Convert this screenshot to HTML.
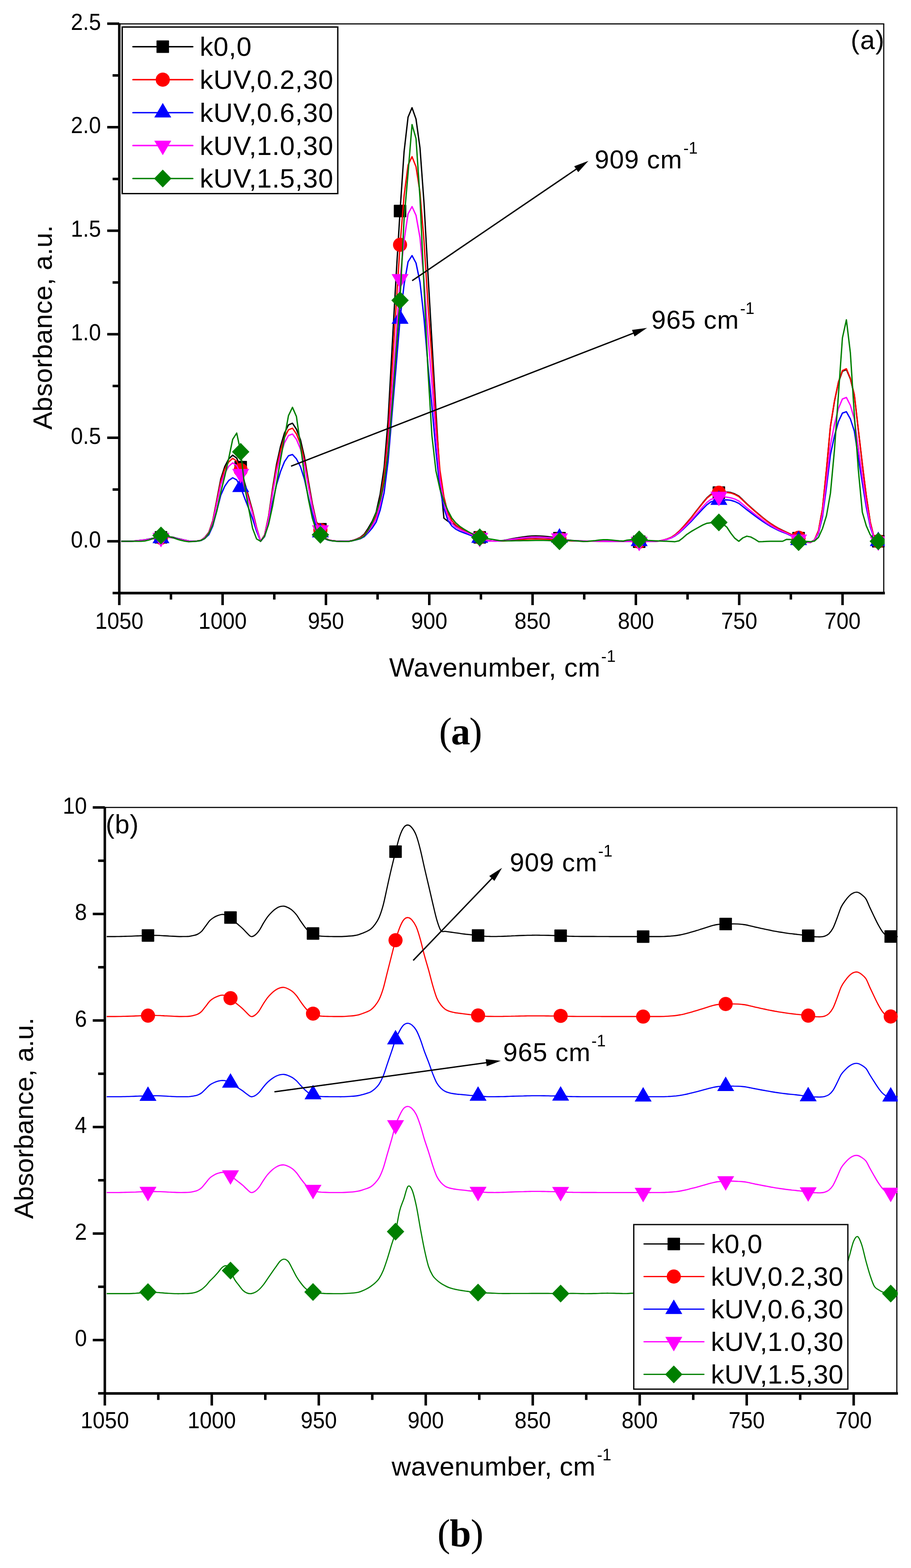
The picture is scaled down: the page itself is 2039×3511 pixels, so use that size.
<!DOCTYPE html>
<html><head><meta charset="utf-8"><title>FTIR spectra</title><style>html,body{margin:0;padding:0;background:#fff;}svg{display:block;}</style></head><body>
<svg width="2039" height="3511" viewBox="0 0 2039 3511"><rect width="2039" height="3511" fill="#fff"/><defs><clipPath id="ca"><rect x="267.0" y="53.5" width="1713.0" height="1274.5"/></clipPath><clipPath id="cb"><rect x="234.6" y="1808.0" width="1774.7" height="1312.1999999999998"/></clipPath></defs>
<line x1="267.0" y1="53.5" x2="1979.2" y2="53.5" stroke="#000" stroke-width="2.6"/><line x1="1978.0" y1="53.5" x2="1978.0" y2="1328.0" stroke="#000" stroke-width="2.5"/>
<g clip-path="url(#ca)">
<polyline points="271.1,1212.0 280.0,1212.0 288.9,1212.0 297.9,1211.6 306.8,1210.8 315.7,1209.8 324.6,1208.7 333.5,1207.0 342.4,1205.3 351.4,1204.2 360.3,1203.2 369.2,1202.0 378.1,1201.9 387.0,1203.0 396.0,1205.4 404.9,1207.5 413.8,1209.4 422.7,1211.3 431.6,1212.0 440.6,1211.5 449.5,1210.1 458.4,1203.3 467.3,1192.3 476.2,1166.2 485.2,1119.6 494.1,1072.6 503.0,1045.0 511.9,1027.7 520.8,1019.2 529.8,1025.8 538.7,1046.0 547.6,1081.0 556.5,1112.2 565.4,1144.0 574.3,1181.6 583.3,1212.0 592.2,1197.8 601.1,1156.6 610.0,1094.3 618.9,1039.9 627.9,999.4 636.8,969.3 645.7,951.4 654.6,947.7 663.5,961.1 672.5,984.7 681.4,1023.2 690.3,1077.8 699.2,1128.1 708.1,1168.2 717.1,1185.1 726.0,1203.4 734.9,1208.6 743.8,1210.6 752.7,1211.6 761.7,1212.0 770.6,1212.0 779.5,1212.0 788.4,1210.3 797.3,1207.3 806.3,1203.4 815.2,1196.2 824.1,1182.8 833.0,1167.5 841.9,1146.8 850.8,1106.7 859.8,1046.6 868.7,939.2 877.6,778.4 886.5,619.9 895.4,472.6 904.4,339.9 913.3,262.4 922.2,241.2 931.1,266.5 940.0,331.0 949.0,454.1 957.9,613.6 966.8,766.3 975.7,920.3 984.6,1067.1 993.6,1160.4 1002.5,1167.1 1011.4,1172.0 1020.3,1176.8 1029.2,1181.9 1038.2,1187.1 1047.1,1191.7 1056.0,1195.4 1064.9,1199.2 1073.8,1203.2 1082.8,1207.6 1091.7,1210.3 1100.6,1211.2 1109.5,1211.5 1118.4,1211.1 1127.3,1210.1 1136.3,1208.5 1145.2,1206.5 1154.1,1205.0 1163.0,1203.5 1171.9,1202.3 1180.9,1201.1 1189.8,1200.2 1198.7,1200.0 1207.6,1200.2 1216.5,1200.7 1225.5,1201.5 1234.4,1202.7 1243.3,1203.8 1252.2,1205.0 1261.1,1207.2 1270.1,1209.1 1279.0,1210.1 1287.9,1210.8 1296.8,1211.1 1305.7,1211.3 1314.7,1211.4 1323.6,1211.5 1332.5,1211.6 1341.4,1211.7 1350.3,1211.8 1359.2,1211.9 1368.2,1212.0 1377.1,1212.0 1386.0,1212.0 1394.9,1212.0 1403.8,1212.0 1412.8,1212.0 1421.7,1212.0 1430.6,1212.9 1439.5,1212.6 1448.4,1212.0 1457.4,1212.0 1466.3,1212.0 1475.2,1211.5 1484.1,1209.5 1493.0,1207.0 1502.0,1203.4 1510.9,1197.6 1519.8,1189.7 1528.7,1180.2 1537.6,1170.0 1546.6,1159.6 1555.5,1148.0 1564.4,1136.7 1573.3,1125.3 1582.2,1114.6 1591.2,1107.0 1600.1,1103.7 1609.0,1103.1 1617.9,1102.3 1626.8,1101.7 1635.7,1102.8 1644.7,1106.0 1653.6,1110.9 1662.5,1119.2 1671.4,1127.9 1680.3,1135.8 1689.3,1143.8 1698.2,1151.5 1707.1,1158.9 1716.0,1165.9 1724.9,1172.2 1733.9,1178.0 1742.8,1183.2 1751.7,1187.7 1760.6,1191.8 1769.5,1196.1 1778.5,1200.3 1787.4,1205.0 1796.3,1212.2 1805.2,1214.4 1814.1,1214.8 1823.1,1208.7 1832.0,1188.2 1840.9,1139.4 1849.8,1051.3 1858.7,954.9 1867.7,898.9 1876.6,856.5 1885.5,831.3 1894.4,827.3 1903.3,848.4 1912.2,885.0 1921.2,963.3 1930.1,1039.3 1939.0,1111.1 1947.9,1169.5 1956.8,1205.0 1965.8,1212.0 1974.7,1212.0 1983.6,1212.0" fill="none" stroke="#000000" stroke-width="3.0" stroke-linejoin="round"/>
<rect x="346.3" y="1189.2" width="28.0" height="28.0" rx="1.2" fill="#000000"/>
<rect x="524.7" y="1032.0" width="28.0" height="28.0" rx="1.2" fill="#000000"/>
<rect x="703.1" y="1171.1" width="28.0" height="28.0" rx="1.2" fill="#000000"/>
<rect x="881.4" y="458.6" width="28.0" height="28.0" rx="1.2" fill="#000000"/>
<rect x="1059.8" y="1189.2" width="28.0" height="28.0" rx="1.2" fill="#000000"/>
<rect x="1238.2" y="1191.0" width="28.0" height="28.0" rx="1.2" fill="#000000"/>
<rect x="1416.6" y="1198.9" width="28.0" height="28.0" rx="1.2" fill="#000000"/>
<rect x="1595.0" y="1089.1" width="28.0" height="28.0" rx="1.2" fill="#000000"/>
<rect x="1773.4" y="1191.0" width="28.0" height="28.0" rx="1.2" fill="#000000"/>
<rect x="1951.8" y="1198.0" width="28.0" height="28.0" rx="1.2" fill="#000000"/>
<polyline points="271.1,1212.0 280.0,1212.0 288.9,1212.0 297.9,1211.7 306.8,1210.9 315.7,1210.0 324.6,1209.0 333.5,1207.5 342.4,1206.0 351.4,1205.0 360.3,1204.1 369.2,1203.0 378.1,1203.0 387.0,1203.9 396.0,1206.0 404.9,1207.9 413.8,1209.7 422.7,1211.4 431.6,1212.0 440.6,1211.5 449.5,1210.1 458.4,1203.6 467.3,1193.0 476.2,1167.8 485.2,1122.9 494.1,1077.6 503.0,1051.1 511.9,1034.3 520.8,1026.1 529.8,1032.5 538.7,1052.5 547.6,1085.8 556.5,1115.7 565.4,1146.4 574.3,1182.6 583.3,1212.0 592.2,1198.4 601.1,1159.0 610.0,1099.2 618.9,1047.1 627.9,1008.3 636.8,979.5 645.7,962.4 654.6,958.8 663.5,971.6 672.5,994.2 681.4,1031.1 690.3,1083.4 699.2,1131.6 708.1,1169.9 717.1,1187.0 726.0,1203.7 734.9,1208.8 743.8,1210.7 752.7,1211.6 761.7,1212.0 770.6,1212.0 779.5,1212.0 788.4,1210.5 797.3,1207.8 806.3,1204.4 815.2,1198.0 824.1,1186.1 833.0,1172.5 841.9,1154.1 850.8,1118.6 859.8,1065.3 868.7,970.1 877.6,827.4 886.5,686.8 895.4,548.1 904.4,438.5 913.3,369.7 922.2,350.9 931.1,373.3 940.0,430.5 949.0,539.7 957.9,681.7 966.8,805.7 975.7,940.1 984.6,1052.0 993.6,1112.3 1002.5,1148.8 1011.4,1166.0 1020.3,1175.7 1029.2,1181.9 1038.2,1186.4 1047.1,1190.9 1056.0,1195.5 1064.9,1199.5 1073.8,1203.2 1082.8,1207.8 1091.7,1210.5 1100.6,1211.3 1109.5,1211.6 1118.4,1211.5 1127.3,1211.2 1136.3,1210.5 1145.2,1209.5 1154.1,1208.8 1163.0,1208.2 1171.9,1207.6 1180.9,1207.1 1189.8,1206.7 1198.7,1206.6 1207.6,1206.7 1216.5,1206.9 1225.5,1207.3 1234.4,1207.8 1243.3,1207.1 1252.2,1206.4 1261.1,1208.3 1270.1,1210.7 1279.0,1211.2 1287.9,1211.5 1296.8,1211.6 1305.7,1211.7 1314.7,1211.7 1323.6,1211.8 1332.5,1211.8 1341.4,1211.9 1350.3,1211.9 1359.2,1212.0 1368.2,1212.0 1377.1,1212.0 1386.0,1212.0 1394.9,1212.0 1403.8,1212.0 1412.8,1212.0 1421.7,1212.0 1430.6,1212.9 1439.5,1212.6 1448.4,1212.0 1457.4,1212.0 1466.3,1212.0 1475.2,1211.5 1484.1,1209.5 1493.0,1207.1 1502.0,1203.5 1510.9,1197.8 1519.8,1189.9 1528.7,1180.5 1537.6,1170.4 1546.6,1160.1 1555.5,1148.6 1564.4,1137.4 1573.3,1126.2 1582.2,1115.6 1591.2,1108.0 1600.1,1104.9 1609.0,1103.3 1617.9,1102.9 1626.8,1102.8 1635.7,1103.9 1644.7,1107.1 1653.6,1112.0 1662.5,1120.2 1671.4,1128.7 1680.3,1136.6 1689.3,1144.5 1698.2,1152.1 1707.1,1159.5 1716.0,1166.4 1724.9,1172.6 1733.9,1178.4 1742.8,1183.5 1751.7,1188.0 1760.6,1192.1 1769.5,1196.1 1778.5,1199.8 1787.4,1204.1 1796.3,1211.9 1805.2,1214.3 1814.1,1214.8 1823.1,1208.6 1832.0,1188.1 1840.9,1139.1 1849.8,1050.6 1858.7,953.8 1867.7,897.7 1876.6,855.1 1885.5,829.8 1894.4,825.7 1903.3,847.0 1912.2,883.7 1921.2,962.3 1930.1,1038.6 1939.0,1110.7 1947.9,1169.4 1956.8,1205.0 1965.8,1212.0 1974.7,1212.0 1983.6,1212.0" fill="none" stroke="#ff0000" stroke-width="3.0" stroke-linejoin="round"/>
<circle cx="360.3" cy="1204.1" r="15.8" fill="#ff0000"/>
<circle cx="538.7" cy="1052.5" r="15.8" fill="#ff0000"/>
<circle cx="717.1" cy="1187.0" r="15.8" fill="#ff0000"/>
<circle cx="895.4" cy="548.1" r="15.8" fill="#ff0000"/>
<circle cx="1073.8" cy="1203.2" r="15.8" fill="#ff0000"/>
<circle cx="1252.2" cy="1206.4" r="15.8" fill="#ff0000"/>
<circle cx="1430.6" cy="1212.9" r="15.8" fill="#ff0000"/>
<circle cx="1609.0" cy="1103.3" r="15.8" fill="#ff0000"/>
<circle cx="1787.4" cy="1204.1" r="15.8" fill="#ff0000"/>
<circle cx="1965.8" cy="1212.0" r="15.8" fill="#ff0000"/>
<polyline points="271.1,1212.0 280.0,1212.0 288.9,1212.0 297.9,1211.7 306.8,1210.9 315.7,1210.0 324.6,1209.0 333.5,1207.4 342.4,1206.1 351.4,1205.8 360.3,1205.5 369.2,1203.4 378.1,1203.0 387.0,1203.9 396.0,1206.0 404.9,1207.9 413.8,1209.7 422.7,1211.4 431.6,1212.0 440.6,1211.7 449.5,1210.6 458.4,1205.6 467.3,1197.5 476.2,1178.2 485.2,1143.8 494.1,1109.1 503.0,1088.8 511.9,1076.0 520.8,1069.7 529.8,1074.6 538.7,1091.0 547.6,1115.6 556.5,1138.3 565.4,1161.8 574.3,1189.5 583.3,1212.0 592.2,1201.5 601.1,1171.3 610.0,1125.5 618.9,1085.5 627.9,1055.7 636.8,1033.6 645.7,1020.5 654.6,1017.8 663.5,1027.6 672.5,1044.9 681.4,1073.2 690.3,1113.4 699.2,1150.3 708.1,1179.8 717.1,1192.5 726.0,1205.7 734.9,1209.5 743.8,1211.0 752.7,1211.7 761.7,1212.0 770.6,1212.0 779.5,1212.0 788.4,1210.9 797.3,1208.9 806.3,1206.4 815.2,1201.6 824.1,1192.7 833.0,1182.6 841.9,1169.0 850.8,1142.6 859.8,1103.0 868.7,1032.2 877.6,926.2 886.5,821.8 895.4,714.1 904.4,637.3 913.3,586.2 922.2,572.3 931.1,588.9 940.0,631.4 949.0,712.5 957.9,818.0 966.8,910.1 975.7,1010.0 984.6,1093.1 993.6,1137.9 1002.5,1165.1 1011.4,1177.9 1020.3,1185.0 1029.2,1189.6 1038.2,1193.0 1047.1,1196.4 1056.0,1199.8 1064.9,1202.2 1073.8,1204.6 1082.8,1208.5 1091.7,1210.9 1100.6,1211.5 1109.5,1211.7 1118.4,1211.3 1127.3,1210.6 1136.3,1209.4 1145.2,1207.9 1154.1,1206.7 1163.0,1205.6 1171.9,1204.7 1180.9,1203.9 1189.8,1203.2 1198.7,1203.0 1207.6,1203.2 1216.5,1203.5 1225.5,1204.2 1234.4,1205.0 1243.3,1204.6 1252.2,1204.1 1261.1,1206.7 1270.1,1209.8 1279.0,1210.6 1287.9,1211.1 1296.8,1211.4 1305.7,1211.5 1314.7,1211.5 1323.6,1211.6 1332.5,1211.7 1341.4,1211.8 1350.3,1211.8 1359.2,1211.9 1368.2,1212.0 1377.1,1212.0 1386.0,1212.0 1394.9,1212.0 1403.8,1212.0 1412.8,1212.0 1421.7,1212.0 1430.6,1212.0 1439.5,1212.0 1448.4,1212.0 1457.4,1212.0 1466.3,1212.0 1475.2,1211.6 1484.1,1209.9 1493.0,1207.8 1502.0,1204.7 1510.9,1199.9 1519.8,1193.3 1528.7,1185.3 1537.6,1176.7 1546.6,1168.0 1555.5,1158.2 1564.4,1148.7 1573.3,1139.2 1582.2,1130.2 1591.2,1123.8 1600.1,1121.1 1609.0,1119.7 1617.9,1119.4 1626.8,1119.3 1635.7,1120.3 1644.7,1123.0 1653.6,1127.1 1662.5,1134.1 1671.4,1141.3 1680.3,1148.0 1689.3,1154.7 1698.2,1161.2 1707.1,1167.4 1716.0,1173.3 1724.9,1178.6 1733.9,1183.5 1742.8,1187.8 1751.7,1191.5 1760.6,1194.9 1769.5,1199.1 1778.5,1204.8 1787.4,1209.7 1796.3,1212.8 1805.2,1214.0 1814.1,1214.3 1823.1,1209.4 1832.0,1194.1 1840.9,1157.3 1849.8,1090.8 1858.7,1018.1 1867.7,976.0 1876.6,944.0 1885.5,925.0 1894.4,921.9 1903.3,937.9 1912.2,965.4 1921.2,1024.5 1930.1,1081.8 1939.0,1135.9 1947.9,1180.0 1956.8,1206.7 1965.8,1212.0 1974.7,1212.0 1983.6,1212.0" fill="none" stroke="#0000ff" stroke-width="3.0" stroke-linejoin="round"/>
<polygon points="360.3,1183.8 379.3,1216.3 341.3,1216.3" fill="#0000ff"/>
<polygon points="538.7,1069.3 557.7,1101.8 519.7,1101.8" fill="#0000ff"/>
<polygon points="717.1,1170.8 736.1,1203.3 698.1,1203.3" fill="#0000ff"/>
<polygon points="895.4,692.4 914.4,724.9 876.4,724.9" fill="#0000ff"/>
<polygon points="1073.8,1182.9 1092.8,1215.4 1054.8,1215.4" fill="#0000ff"/>
<polygon points="1252.2,1182.4 1271.2,1214.9 1233.2,1214.9" fill="#0000ff"/>
<polygon points="1430.6,1190.3 1449.6,1222.8 1411.6,1222.8" fill="#0000ff"/>
<polygon points="1609.0,1098.0 1628.0,1130.5 1590.0,1130.5" fill="#0000ff"/>
<polygon points="1787.4,1188.0 1806.4,1220.5 1768.4,1220.5" fill="#0000ff"/>
<polygon points="1965.8,1190.3 1984.8,1222.8 1946.8,1222.8" fill="#0000ff"/>
<polyline points="271.1,1212.0 280.0,1212.0 288.9,1212.0 297.9,1211.7 306.8,1211.0 315.7,1210.1 324.6,1209.2 333.5,1207.8 342.4,1206.3 351.4,1205.1 360.3,1204.1 369.2,1203.4 378.1,1203.5 387.0,1204.3 396.0,1206.4 404.9,1208.2 413.8,1209.8 422.7,1211.4 431.6,1212.0 440.6,1211.6 449.5,1210.2 458.4,1204.0 467.3,1194.1 476.2,1170.2 485.2,1127.8 494.1,1085.0 503.0,1059.9 511.9,1044.1 520.8,1036.4 529.8,1042.4 538.7,1060.9 547.6,1092.7 556.5,1121.0 565.4,1150.0 574.3,1184.3 583.3,1212.0 592.2,1199.0 601.1,1161.7 610.0,1105.0 618.9,1055.5 627.9,1018.7 636.8,991.4 645.7,975.1 654.6,971.8 663.5,983.9 672.5,1005.3 681.4,1040.4 690.3,1090.0 699.2,1135.7 708.1,1172.3 717.1,1187.0 726.0,1204.2 734.9,1209.0 743.8,1210.7 752.7,1211.6 761.7,1212.0 770.6,1212.0 779.5,1212.0 788.4,1210.7 797.3,1208.3 806.3,1205.4 815.2,1199.8 824.1,1189.4 833.0,1177.6 841.9,1161.6 850.8,1130.7 859.8,1084.3 868.7,1001.4 877.6,877.2 886.5,754.9 895.4,624.6 904.4,538.8 913.3,478.9 922.2,462.6 931.1,482.1 940.0,531.9 949.0,626.9 957.9,750.4 966.8,858.4 975.7,975.3 984.6,1072.8 993.6,1125.2 1002.5,1157.0 1011.4,1172.0 1020.3,1180.4 1029.2,1185.8 1038.2,1189.7 1047.1,1193.7 1056.0,1197.7 1064.9,1201.0 1073.8,1204.1 1082.8,1208.2 1091.7,1210.7 1100.6,1211.4 1109.5,1211.6 1118.4,1211.3 1127.3,1210.5 1136.3,1209.2 1145.2,1207.6 1154.1,1206.4 1163.0,1205.2 1171.9,1204.3 1180.9,1203.3 1189.8,1202.6 1198.7,1202.4 1207.6,1202.6 1216.5,1202.9 1225.5,1203.6 1234.4,1204.6 1243.3,1204.8 1252.2,1205.0 1261.1,1207.2 1270.1,1209.7 1279.0,1210.5 1287.9,1211.1 1296.8,1211.3 1305.7,1211.4 1314.7,1211.5 1323.6,1211.6 1332.5,1211.6 1341.4,1211.7 1350.3,1211.8 1359.2,1211.9 1368.2,1212.0 1377.1,1212.0 1386.0,1212.0 1394.9,1212.0 1403.8,1212.0 1412.8,1212.0 1421.7,1212.0 1430.6,1212.9 1439.5,1212.6 1448.4,1212.0 1457.4,1212.0 1466.3,1212.0 1475.2,1211.6 1484.1,1209.8 1493.0,1207.5 1502.0,1204.3 1510.9,1199.2 1519.8,1192.1 1528.7,1183.6 1537.6,1174.5 1546.6,1165.2 1555.5,1154.9 1564.4,1144.7 1573.3,1134.6 1582.2,1125.0 1591.2,1118.2 1600.1,1115.5 1609.0,1111.9 1617.9,1112.3 1626.8,1113.3 1635.7,1114.8 1644.7,1117.4 1653.6,1121.8 1662.5,1129.2 1671.4,1136.9 1680.3,1144.0 1689.3,1151.1 1698.2,1157.9 1707.1,1164.6 1716.0,1170.9 1724.9,1176.5 1733.9,1181.7 1742.8,1186.3 1751.7,1190.2 1760.6,1193.9 1769.5,1198.1 1778.5,1203.0 1787.4,1207.8 1796.3,1212.6 1805.2,1214.1 1814.1,1214.5 1823.1,1209.2 1832.0,1192.1 1840.9,1151.3 1849.8,1077.5 1858.7,996.8 1867.7,950.0 1876.6,914.5 1885.5,893.4 1894.4,890.0 1903.3,907.7 1912.2,938.3 1921.2,1003.9 1930.1,1067.5 1939.0,1127.6 1947.9,1176.5 1956.8,1206.1 1965.8,1212.0 1974.7,1212.0 1983.6,1212.0" fill="none" stroke="#ff00ff" stroke-width="3.0" stroke-linejoin="round"/>
<polygon points="341.3,1193.3 379.3,1193.3 360.3,1225.8" fill="#ff00ff"/>
<polygon points="519.7,1050.1 557.7,1050.1 538.7,1082.6" fill="#ff00ff"/>
<polygon points="698.1,1176.2 736.1,1176.2 717.1,1208.7" fill="#ff00ff"/>
<polygon points="876.4,613.8 914.4,613.8 895.4,646.3" fill="#ff00ff"/>
<polygon points="1054.8,1193.3 1092.8,1193.3 1073.8,1225.8" fill="#ff00ff"/>
<polygon points="1233.2,1194.2 1271.2,1194.2 1252.2,1226.7" fill="#ff00ff"/>
<polygon points="1411.6,1202.1 1449.6,1202.1 1430.6,1234.6" fill="#ff00ff"/>
<polygon points="1590.0,1101.1 1628.0,1101.1 1609.0,1133.6" fill="#ff00ff"/>
<polygon points="1768.4,1197.0 1806.4,1197.0 1787.4,1229.5" fill="#ff00ff"/>
<polygon points="1946.8,1201.2 1984.8,1201.2 1965.8,1233.7" fill="#ff00ff"/>
<polyline points="271.1,1212.0 280.0,1212.0 288.9,1212.0 297.9,1212.0 306.8,1212.0 315.7,1212.0 324.6,1211.2 333.5,1209.1 342.4,1206.0 351.4,1202.3 360.3,1199.0 369.2,1199.7 378.1,1201.5 387.0,1204.1 396.0,1207.2 404.9,1209.8 413.8,1211.7 422.7,1212.9 431.6,1212.6 440.6,1211.7 449.5,1210.2 458.4,1205.8 467.3,1194.7 476.2,1175.3 485.2,1144.3 494.1,1102.4 503.0,1066.6 511.9,1026.5 520.8,983.8 529.8,969.7 538.7,1011.7 547.6,1089.2 556.5,1138.2 565.4,1183.3 574.3,1206.7 583.3,1212.0 592.2,1200.6 601.1,1174.3 610.0,1133.8 618.9,1082.4 627.9,1029.6 636.8,979.4 645.7,930.6 654.6,912.1 663.5,932.7 672.5,996.5 681.4,1065.1 690.3,1117.9 699.2,1160.8 708.1,1188.6 717.1,1197.6 726.0,1205.9 734.9,1209.1 743.8,1211.1 752.7,1212.0 761.7,1212.3 770.6,1212.4 779.5,1212.5 788.4,1210.9 797.3,1208.5 806.3,1205.9 815.2,1200.1 824.1,1187.0 833.0,1170.4 841.9,1148.5 850.8,1120.4 859.8,1080.8 868.7,1012.3 877.6,909.3 886.5,790.8 895.4,672.4 904.4,490.6 913.3,388.2 922.2,279.0 931.1,310.2 940.0,442.9 949.0,642.2 957.9,830.0 966.8,976.3 975.7,1054.4 984.6,1094.7 993.6,1122.6 1002.5,1143.4 1011.4,1160.2 1020.3,1171.0 1029.2,1178.7 1038.2,1184.7 1047.1,1190.0 1056.0,1194.8 1064.9,1199.6 1073.8,1203.2 1082.8,1205.0 1091.7,1206.2 1100.6,1207.5 1109.5,1209.0 1118.4,1210.4 1127.3,1211.1 1136.3,1211.0 1145.2,1210.9 1154.1,1210.8 1163.0,1210.7 1171.9,1210.6 1180.9,1210.4 1189.8,1210.2 1198.7,1210.1 1207.6,1210.1 1216.5,1210.1 1225.5,1210.2 1234.4,1210.7 1243.3,1211.6 1252.2,1212.0 1261.1,1211.5 1270.1,1210.5 1279.0,1210.2 1287.9,1210.8 1296.8,1211.8 1305.7,1212.4 1314.7,1212.2 1323.6,1211.3 1332.5,1210.4 1341.4,1209.3 1350.3,1208.4 1359.2,1208.5 1368.2,1209.3 1377.1,1210.2 1386.0,1211.1 1394.9,1211.5 1403.8,1209.4 1412.8,1208.6 1421.7,1208.0 1430.6,1207.8 1439.5,1208.6 1448.4,1209.9 1457.4,1210.5 1466.3,1210.9 1475.2,1211.3 1484.1,1211.7 1493.0,1212.0 1502.0,1212.5 1510.9,1212.9 1519.8,1211.0 1528.7,1204.2 1537.6,1196.4 1546.6,1190.4 1555.5,1185.2 1564.4,1180.3 1573.3,1175.4 1582.2,1171.7 1591.2,1170.5 1600.1,1170.0 1609.0,1169.8 1617.9,1172.9 1626.8,1180.3 1635.7,1193.8 1644.7,1205.3 1653.6,1212.0 1662.5,1204.5 1671.4,1200.6 1680.3,1202.4 1689.3,1207.2 1698.2,1212.9 1707.1,1212.7 1716.0,1212.2 1724.9,1212.0 1733.9,1212.0 1742.8,1212.0 1751.7,1212.0 1760.6,1207.7 1769.5,1208.1 1778.5,1210.6 1787.4,1213.9 1796.3,1212.7 1805.2,1212.2 1814.1,1212.9 1823.1,1211.4 1832.0,1203.2 1840.9,1183.5 1849.8,1154.8 1858.7,1104.5 1867.7,1007.2 1876.6,883.6 1885.5,756.8 1894.4,716.1 1903.3,790.1 1912.2,929.7 1921.2,1052.9 1930.1,1147.1 1939.0,1177.6 1947.9,1197.6 1956.8,1207.7 1965.8,1212.0 1974.7,1212.0 1983.6,1212.0" fill="none" stroke="#007f00" stroke-width="3.0" stroke-linejoin="round"/>
<polygon points="360.3,1179.0 379.8,1199.0 360.3,1219.0 340.8,1199.0" fill="#007f00"/>
<polygon points="538.7,991.7 558.2,1011.7 538.7,1031.7 519.2,1011.7" fill="#007f00"/>
<polygon points="717.1,1177.6 736.6,1197.6 717.1,1217.6 697.6,1197.6" fill="#007f00"/>
<polygon points="895.4,652.4 914.9,672.4 895.4,692.4 875.9,672.4" fill="#007f00"/>
<polygon points="1073.8,1183.2 1093.3,1203.2 1073.8,1223.2 1054.3,1203.2" fill="#007f00"/>
<polygon points="1252.2,1192.0 1271.7,1212.0 1252.2,1232.0 1232.7,1212.0" fill="#007f00"/>
<polygon points="1430.6,1187.8 1450.1,1207.8 1430.6,1227.8 1411.1,1207.8" fill="#007f00"/>
<polygon points="1609.0,1149.8 1628.5,1169.8 1609.0,1189.8 1589.5,1169.8" fill="#007f00"/>
<polygon points="1787.4,1193.9 1806.9,1213.9 1787.4,1233.9 1767.9,1213.9" fill="#007f00"/>
<polygon points="1965.8,1192.0 1985.3,1212.0 1965.8,1232.0 1946.3,1212.0" fill="#007f00"/>
</g>
<line x1="922.5" y1="628.5" x2="1293.0" y2="376.6" stroke="#000" stroke-width="3.0"/>
<polygon points="1317.0,360.3 1294.2,385.5 1285.2,372.2" fill="#000"/>
<line x1="651.4" y1="1043.8" x2="1421.2" y2="744.7" stroke="#000" stroke-width="3.0"/>
<polygon points="1448.2,734.2 1420.3,753.6 1414.5,738.7" fill="#000"/>
<text x="1331.0" y="377.0" style="font-family:'Liberation Sans',Arial,sans-serif;font-size:58px;letter-spacing:1.0px">909 cm<tspan dx="2.4" dy="-33" style="font-size:36px;letter-spacing:0px">-1</tspan></text>
<text x="1458.0" y="736.0" style="font-family:'Liberation Sans',Arial,sans-serif;font-size:58px;letter-spacing:1.0px">965 cm<tspan dx="2.4" dy="-33" style="font-size:36px;letter-spacing:0px">-1</tspan></text>
<rect x="273.5" y="60.5" width="482.5" height="373.0" fill="#fff" stroke="#000" stroke-width="3"/>
<line x1="297.5" y1="104.6" x2="431.5" y2="104.6" stroke="#000000" stroke-width="3.1" stroke-linecap="round"/>
<rect x="350.3" y="90.6" width="28.0" height="28.0" rx="1.2" fill="#000000"/>
<text x="447.0" y="125.2" style="font-family:'Liberation Sans',Arial,sans-serif;font-size:60px;letter-spacing:0.8px">k0,0</text>
<line x1="297.5" y1="178.4" x2="431.5" y2="178.4" stroke="#ff0000" stroke-width="3.1" stroke-linecap="round"/>
<circle cx="364.3" cy="178.4" r="15.8" fill="#ff0000"/>
<text x="447.0" y="199.0" style="font-family:'Liberation Sans',Arial,sans-serif;font-size:60px;letter-spacing:0.8px">kUV,0.2,30</text>
<line x1="297.5" y1="252.2" x2="431.5" y2="252.2" stroke="#0000ff" stroke-width="3.1" stroke-linecap="round"/>
<polygon points="364.3,230.5 383.3,263.0 345.3,263.0" fill="#0000ff"/>
<text x="447.0" y="272.8" style="font-family:'Liberation Sans',Arial,sans-serif;font-size:60px;letter-spacing:0.8px">kUV,0.6,30</text>
<line x1="297.5" y1="325.9" x2="431.5" y2="325.9" stroke="#ff00ff" stroke-width="3.1" stroke-linecap="round"/>
<polygon points="345.3,315.1 383.3,315.1 364.3,347.6" fill="#ff00ff"/>
<text x="447.0" y="346.5" style="font-family:'Liberation Sans',Arial,sans-serif;font-size:60px;letter-spacing:0.8px">kUV,1.0,30</text>
<line x1="297.5" y1="399.7" x2="431.5" y2="399.7" stroke="#007f00" stroke-width="3.1" stroke-linecap="round"/>
<polygon points="364.3,379.7 383.8,399.7 364.3,419.7 344.8,399.7" fill="#007f00"/>
<text x="447.0" y="420.3" style="font-family:'Liberation Sans',Arial,sans-serif;font-size:60px;letter-spacing:0.8px">kUV,1.5,30</text>
<text x="1904" y="110" style="font-family:'Liberation Sans',Arial,sans-serif;font-size:59px;letter-spacing:1.5px">(a)</text>
<line x1="267.0" y1="52.2" x2="267.0" y2="1328.0" stroke="#000" stroke-width="5.6"/>
<line x1="267.0" y1="1328.0" x2="1980.5" y2="1328.0" stroke="#000" stroke-width="5.8"/>
<line x1="240.0" y1="1212.0" x2="267.0" y2="1212.0" stroke="#000" stroke-width="5.6"/>
<line x1="240.0" y1="980.2" x2="267.0" y2="980.2" stroke="#000" stroke-width="5.6"/>
<line x1="240.0" y1="748.4" x2="267.0" y2="748.4" stroke="#000" stroke-width="5.6"/>
<line x1="240.0" y1="516.6" x2="267.0" y2="516.6" stroke="#000" stroke-width="5.6"/>
<line x1="240.0" y1="284.8" x2="267.0" y2="284.8" stroke="#000" stroke-width="5.6"/>
<line x1="240.0" y1="53.0" x2="267.0" y2="53.0" stroke="#000" stroke-width="5.6"/>
<line x1="252.0" y1="1327.9" x2="267.0" y2="1327.9" stroke="#000" stroke-width="5.6"/>
<line x1="252.0" y1="1096.1" x2="267.0" y2="1096.1" stroke="#000" stroke-width="5.6"/>
<line x1="252.0" y1="864.3" x2="267.0" y2="864.3" stroke="#000" stroke-width="5.6"/>
<line x1="252.0" y1="632.5" x2="267.0" y2="632.5" stroke="#000" stroke-width="5.6"/>
<line x1="252.0" y1="400.7" x2="267.0" y2="400.7" stroke="#000" stroke-width="5.6"/>
<line x1="252.0" y1="168.9" x2="267.0" y2="168.9" stroke="#000" stroke-width="5.6"/>
<line x1="267.0" y1="1328.0" x2="267.0" y2="1355.0" stroke="#000" stroke-width="5.6"/>
<line x1="382.6" y1="1328.0" x2="382.6" y2="1342.5" stroke="#000" stroke-width="5.6"/>
<line x1="498.2" y1="1328.0" x2="498.2" y2="1355.0" stroke="#000" stroke-width="5.6"/>
<line x1="613.9" y1="1328.0" x2="613.9" y2="1342.5" stroke="#000" stroke-width="5.6"/>
<line x1="729.5" y1="1328.0" x2="729.5" y2="1355.0" stroke="#000" stroke-width="5.6"/>
<line x1="845.1" y1="1328.0" x2="845.1" y2="1342.5" stroke="#000" stroke-width="5.6"/>
<line x1="960.8" y1="1328.0" x2="960.8" y2="1355.0" stroke="#000" stroke-width="5.6"/>
<line x1="1076.4" y1="1328.0" x2="1076.4" y2="1342.5" stroke="#000" stroke-width="5.6"/>
<line x1="1192.0" y1="1328.0" x2="1192.0" y2="1355.0" stroke="#000" stroke-width="5.6"/>
<line x1="1307.6" y1="1328.0" x2="1307.6" y2="1342.5" stroke="#000" stroke-width="5.6"/>
<line x1="1423.2" y1="1328.0" x2="1423.2" y2="1355.0" stroke="#000" stroke-width="5.6"/>
<line x1="1538.9" y1="1328.0" x2="1538.9" y2="1342.5" stroke="#000" stroke-width="5.6"/>
<line x1="1654.5" y1="1328.0" x2="1654.5" y2="1355.0" stroke="#000" stroke-width="5.6"/>
<line x1="1770.1" y1="1328.0" x2="1770.1" y2="1342.5" stroke="#000" stroke-width="5.6"/>
<line x1="1885.8" y1="1328.0" x2="1885.8" y2="1355.0" stroke="#000" stroke-width="5.6"/>
<text transform="translate(226.0,1225.5) scale(0.944,1)" text-anchor="end" style="font-family:'Liberation Sans',Arial,sans-serif;font-size:51.5px">0.0</text>
<text transform="translate(226.0,993.7) scale(0.944,1)" text-anchor="end" style="font-family:'Liberation Sans',Arial,sans-serif;font-size:51.5px">0.5</text>
<text transform="translate(226.0,761.9) scale(0.944,1)" text-anchor="end" style="font-family:'Liberation Sans',Arial,sans-serif;font-size:51.5px">1.0</text>
<text transform="translate(226.0,530.1) scale(0.944,1)" text-anchor="end" style="font-family:'Liberation Sans',Arial,sans-serif;font-size:51.5px">1.5</text>
<text transform="translate(226.0,298.3) scale(0.944,1)" text-anchor="end" style="font-family:'Liberation Sans',Arial,sans-serif;font-size:51.5px">2.0</text>
<text transform="translate(226.0,66.5) scale(0.944,1)" text-anchor="end" style="font-family:'Liberation Sans',Arial,sans-serif;font-size:51.5px">2.5</text>
<text transform="translate(267.0,1407.5) scale(0.944,1)" text-anchor="middle" style="font-family:'Liberation Sans',Arial,sans-serif;font-size:51.5px">1050</text>
<text transform="translate(498.2,1407.5) scale(0.944,1)" text-anchor="middle" style="font-family:'Liberation Sans',Arial,sans-serif;font-size:51.5px">1000</text>
<text transform="translate(729.5,1407.5) scale(0.944,1)" text-anchor="middle" style="font-family:'Liberation Sans',Arial,sans-serif;font-size:51.5px">950</text>
<text transform="translate(960.8,1407.5) scale(0.944,1)" text-anchor="middle" style="font-family:'Liberation Sans',Arial,sans-serif;font-size:51.5px">900</text>
<text transform="translate(1192.0,1407.5) scale(0.944,1)" text-anchor="middle" style="font-family:'Liberation Sans',Arial,sans-serif;font-size:51.5px">850</text>
<text transform="translate(1423.2,1407.5) scale(0.944,1)" text-anchor="middle" style="font-family:'Liberation Sans',Arial,sans-serif;font-size:51.5px">800</text>
<text transform="translate(1654.5,1407.5) scale(0.944,1)" text-anchor="middle" style="font-family:'Liberation Sans',Arial,sans-serif;font-size:51.5px">750</text>
<text transform="translate(1885.8,1407.5) scale(0.944,1)" text-anchor="middle" style="font-family:'Liberation Sans',Arial,sans-serif;font-size:51.5px">700</text>
<text x="871" y="1514.8" style="font-family:'Liberation Sans',Arial,sans-serif;font-size:60px;letter-spacing:0.6px">Wavenumber, cm<tspan dx="1.5" dy="-33" style="font-size:36px;letter-spacing:0.4px">-1</tspan></text>
<text transform="translate(115.5,733) rotate(-90)" text-anchor="middle" style="font-family:'Liberation Sans',Arial,sans-serif;font-size:60px;letter-spacing:0.27px">Absorbance, a.u.</text>
<text x="1030" y="1667.2" text-anchor="middle" style="font-family:'Liberation Serif','Times New Roman',serif;font-size:86px;letter-spacing:-2px">(<tspan font-weight="bold">a</tspan>)</text>
<line x1="234.6" y1="1808.0" x2="2008.5" y2="1808.0" stroke="#000" stroke-width="2.6"/><line x1="2007.3" y1="1808.0" x2="2007.3" y2="3120.2" stroke="#000" stroke-width="2.5"/>
<g clip-path="url(#cb)">
<path d="M238.8,2097.1C240.4,2097.1 245.0,2097.1 248.1,2097.1C251.2,2097.1 254.2,2097.1 257.3,2097.1C260.4,2097.1 263.5,2097.0 266.5,2097.0C269.6,2096.9 272.7,2096.9 275.8,2096.8C278.9,2096.7 281.9,2096.6 285.0,2096.5C288.1,2096.4 291.2,2096.3 294.3,2096.2C297.3,2096.1 300.4,2095.9 303.5,2095.8C306.6,2095.7 309.6,2095.5 312.7,2095.4C315.8,2095.2 318.9,2095.2 322.0,2095.1C325.0,2095.0 328.1,2094.9 331.2,2094.8C334.3,2094.7 337.4,2094.6 340.4,2094.5C343.5,2094.5 346.6,2094.5 349.7,2094.5C352.7,2094.5 355.8,2094.6 358.9,2094.8C362.0,2094.9 365.1,2095.2 368.1,2095.4C371.2,2095.6 374.3,2095.8 377.4,2095.9C380.5,2096.1 383.5,2096.3 386.6,2096.4C389.7,2096.6 392.8,2096.8 395.8,2096.9C398.9,2097.0 402.0,2097.1 405.1,2097.1C408.2,2097.1 411.2,2097.0 414.3,2097.0C417.4,2096.9 420.5,2096.9 423.5,2096.6C426.6,2096.2 429.7,2095.6 432.8,2094.8C435.9,2094.1 438.9,2093.6 442.0,2092.0C445.1,2090.4 448.2,2088.4 451.3,2085.3C454.3,2082.2 457.4,2077.3 460.5,2073.3C463.6,2069.3 466.6,2064.4 469.7,2061.2C472.8,2058.0 475.9,2056.1 479.0,2054.1C482.0,2052.2 485.1,2050.8 488.2,2049.7C491.3,2048.6 494.4,2047.6 497.4,2047.5C500.5,2047.4 503.6,2048.0 506.7,2049.2C509.7,2050.3 512.8,2052.0 515.9,2054.4C519.0,2056.8 522.1,2060.5 525.1,2063.4C528.2,2066.2 531.3,2068.7 534.4,2071.4C537.5,2074.1 540.5,2076.6 543.6,2079.6C546.7,2082.6 549.8,2086.3 552.8,2089.3C555.9,2092.2 559.0,2096.4 562.1,2097.1C565.2,2097.8 568.2,2095.8 571.3,2093.4C574.4,2091.0 577.5,2087.3 580.6,2082.8C583.6,2078.4 586.7,2071.8 589.8,2066.8C592.9,2061.8 595.9,2056.9 599.0,2052.8C602.1,2048.7 605.2,2045.4 608.3,2042.4C611.3,2039.4 614.4,2036.7 617.5,2034.7C620.6,2032.6 623.7,2031.0 626.7,2030.1C629.8,2029.1 632.9,2028.7 636.0,2029.1C639.0,2029.5 642.1,2031.0 645.2,2032.5C648.3,2034.1 651.4,2035.9 654.4,2038.6C657.5,2041.3 660.6,2044.5 663.7,2048.5C666.8,2052.5 669.8,2058.1 672.9,2062.6C676.0,2067.1 679.1,2071.6 682.1,2075.5C685.2,2079.4 688.3,2083.4 691.4,2085.8C694.5,2088.3 697.5,2088.7 700.6,2090.2C703.7,2091.7 706.8,2093.9 709.9,2094.9C712.9,2095.9 716.0,2095.9 719.1,2096.2C722.2,2096.5 725.2,2096.6 728.3,2096.7C731.4,2096.9 734.5,2096.9 737.6,2097.0C740.6,2097.0 743.7,2097.1 746.8,2097.1C749.9,2097.1 753.0,2097.1 756.0,2097.1C759.1,2097.1 762.2,2097.2 765.3,2097.1C768.3,2097.0 771.4,2096.8 774.5,2096.6C777.6,2096.4 780.7,2096.2 783.7,2095.9C786.8,2095.6 789.9,2095.4 793.0,2094.9C796.1,2094.4 799.1,2093.9 802.2,2093.0C805.3,2092.1 808.4,2090.8 811.4,2089.6C814.5,2088.3 817.6,2087.2 820.7,2085.6C823.8,2084.1 826.8,2082.9 829.9,2080.3C833.0,2077.7 836.1,2074.3 839.2,2070.0C842.2,2065.7 845.3,2061.7 848.4,2054.5C851.5,2047.3 854.5,2038.4 857.6,2026.9C860.7,2015.4 863.8,1999.2 866.9,1985.5C869.9,1971.8 873.0,1957.9 876.1,1944.8C879.2,1931.7 882.3,1918.9 885.3,1906.9C888.4,1894.9 891.5,1881.8 894.6,1872.7C897.6,1863.7 900.7,1857.0 903.8,1852.8C906.9,1848.6 910.0,1847.2 913.0,1847.4C916.1,1847.5 919.2,1850.0 922.3,1853.9C925.4,1857.7 928.4,1862.4 931.5,1870.4C934.6,1878.5 937.7,1890.0 940.7,1902.1C943.8,1914.2 946.9,1929.8 950.0,1943.2C953.1,1956.5 956.1,1969.3 959.2,1982.4C962.3,1995.6 965.4,2009.2 968.4,2022.1C971.5,2034.9 974.6,2049.5 977.7,2059.8C980.8,2070.1 983.8,2079.5 986.9,2083.8C990.0,2088.1 993.1,2085.0 996.2,2085.5C999.2,2086.0 1002.3,2086.4 1005.4,2086.8C1008.5,2087.2 1011.5,2087.6 1014.6,2088.0C1017.7,2088.5 1020.8,2088.9 1023.9,2089.3C1026.9,2089.8 1030.0,2090.3 1033.1,2090.7C1036.2,2091.1 1039.3,2091.5 1042.3,2091.9C1045.4,2092.2 1048.5,2092.5 1051.6,2092.8C1054.6,2093.1 1057.7,2093.4 1060.8,2093.8C1063.9,2094.1 1067.0,2094.5 1070.0,2094.8C1073.1,2095.2 1076.2,2095.7 1079.3,2096.0C1082.4,2096.3 1085.4,2096.5 1088.5,2096.7C1091.6,2096.8 1094.7,2096.8 1097.7,2096.9C1100.8,2096.9 1103.9,2097.0 1107.0,2097.0C1110.1,2097.0 1113.1,2096.9 1116.2,2096.8C1119.3,2096.8 1122.4,2096.7 1125.5,2096.6C1128.5,2096.5 1131.6,2096.3 1134.7,2096.2C1137.8,2096.0 1140.8,2095.8 1143.9,2095.7C1147.0,2095.5 1150.1,2095.4 1153.2,2095.3C1156.2,2095.1 1159.3,2095.0 1162.4,2094.9C1165.5,2094.8 1168.6,2094.7 1171.6,2094.6C1174.7,2094.5 1177.8,2094.4 1180.9,2094.3C1183.9,2094.2 1187.0,2094.1 1190.1,2094.1C1193.2,2094.0 1196.3,2094.0 1199.3,2094.0C1202.4,2094.0 1205.5,2094.0 1208.6,2094.1C1211.7,2094.1 1214.7,2094.1 1217.8,2094.2C1220.9,2094.2 1224.0,2094.3 1227.0,2094.4C1230.1,2094.5 1233.2,2094.6 1236.3,2094.7C1239.4,2094.8 1242.4,2094.9 1245.5,2095.0C1248.6,2095.1 1251.7,2095.2 1254.8,2095.3C1257.8,2095.4 1260.9,2095.7 1264.0,2095.8C1267.1,2096.0 1270.1,2096.2 1273.2,2096.4C1276.3,2096.5 1279.4,2096.5 1282.5,2096.6C1285.5,2096.7 1288.6,2096.7 1291.7,2096.8C1294.8,2096.8 1297.9,2096.8 1300.9,2096.9C1304.0,2096.9 1307.1,2096.9 1310.2,2096.9C1313.2,2096.9 1316.3,2096.9 1319.4,2096.9C1322.5,2096.9 1325.6,2096.9 1328.6,2096.9C1331.7,2097.0 1334.8,2097.0 1337.9,2097.0C1341.0,2097.0 1344.0,2097.0 1347.1,2097.0C1350.2,2097.0 1353.3,2097.0 1356.3,2097.0C1359.4,2097.0 1362.5,2097.1 1365.6,2097.1C1368.7,2097.1 1371.7,2097.1 1374.8,2097.1C1377.9,2097.1 1381.0,2097.1 1384.1,2097.1C1387.1,2097.1 1390.2,2097.1 1393.3,2097.1C1396.4,2097.1 1399.4,2097.1 1402.5,2097.1C1405.6,2097.1 1408.7,2097.1 1411.8,2097.1C1414.8,2097.1 1417.9,2097.1 1421.0,2097.1C1424.1,2097.1 1427.2,2097.0 1430.2,2097.1C1433.3,2097.1 1436.4,2097.3 1439.5,2097.3C1442.5,2097.3 1445.6,2097.3 1448.7,2097.2C1451.8,2097.2 1454.9,2097.1 1457.9,2097.1C1461.0,2097.1 1464.1,2097.1 1467.2,2097.1C1470.2,2097.1 1473.3,2097.1 1476.4,2097.1C1479.5,2097.1 1482.6,2097.1 1485.6,2097.0C1488.7,2096.9 1491.8,2096.6 1494.9,2096.4C1498.0,2096.3 1501.0,2096.1 1504.1,2095.8C1507.2,2095.5 1510.3,2095.3 1513.3,2094.9C1516.4,2094.5 1519.5,2094.0 1522.6,2093.4C1525.7,2092.8 1528.7,2092.1 1531.8,2091.3C1534.9,2090.6 1538.0,2089.7 1541.1,2088.9C1544.1,2088.1 1547.2,2087.2 1550.3,2086.3C1553.4,2085.4 1556.4,2084.5 1559.5,2083.6C1562.6,2082.7 1565.7,2081.6 1568.8,2080.6C1571.8,2079.6 1574.9,2078.7 1578.0,2077.7C1581.1,2076.7 1584.2,2075.7 1587.2,2074.8C1590.3,2073.8 1593.4,2072.8 1596.5,2072.0C1599.5,2071.2 1602.6,2070.5 1605.7,2070.1C1608.8,2069.6 1611.9,2069.4 1614.9,2069.2C1618.0,2069.1 1621.1,2069.1 1624.2,2069.1C1627.3,2069.0 1630.3,2068.9 1633.4,2068.9C1636.5,2068.8 1639.6,2068.7 1642.6,2068.7C1645.7,2068.7 1648.8,2068.8 1651.9,2069.0C1655.0,2069.2 1658.0,2069.5 1661.1,2069.8C1664.2,2070.2 1667.3,2070.5 1670.4,2071.1C1673.4,2071.7 1676.5,2072.5 1679.6,2073.2C1682.7,2073.9 1685.7,2074.7 1688.8,2075.4C1691.9,2076.2 1695.0,2076.8 1698.1,2077.5C1701.1,2078.2 1704.2,2078.9 1707.3,2079.5C1710.4,2080.2 1713.5,2080.9 1716.5,2081.5C1719.6,2082.2 1722.7,2082.8 1725.8,2083.4C1728.8,2084.1 1731.9,2084.7 1735.0,2085.2C1738.1,2085.8 1741.2,2086.3 1744.2,2086.9C1747.3,2087.4 1750.4,2087.9 1753.5,2088.3C1756.6,2088.8 1759.6,2089.3 1762.7,2089.7C1765.8,2090.1 1768.9,2090.5 1771.9,2090.8C1775.0,2091.2 1778.1,2091.5 1781.2,2091.9C1784.3,2092.3 1787.3,2092.6 1790.4,2093.0C1793.5,2093.4 1796.6,2093.7 1799.7,2094.1C1802.7,2094.5 1805.8,2094.8 1808.9,2095.3C1812.0,2095.8 1815.0,2096.7 1818.1,2097.1C1821.2,2097.5 1824.3,2097.6 1827.4,2097.7C1830.4,2097.8 1833.5,2098.0 1836.6,2097.8C1839.7,2097.6 1842.8,2097.4 1845.8,2096.2C1848.9,2095.1 1852.0,2093.9 1855.1,2091.0C1858.1,2088.0 1861.2,2084.3 1864.3,2078.4C1867.4,2072.5 1870.5,2063.6 1873.5,2055.7C1876.6,2047.8 1879.7,2037.5 1882.8,2030.9C1885.9,2024.4 1888.9,2020.8 1892.0,2016.6C1895.1,2012.3 1898.2,2008.5 1901.2,2005.6C1904.3,2002.7 1907.4,2000.4 1910.5,1999.2C1913.6,1997.9 1916.6,1997.4 1919.7,1998.1C1922.8,1998.8 1925.9,2001.1 1929.0,2003.6C1932.0,2006.0 1935.1,2008.0 1938.2,2013.0C1941.3,2017.9 1944.3,2026.5 1947.4,2033.1C1950.5,2039.7 1953.6,2046.3 1956.7,2052.7C1959.7,2059.0 1962.8,2065.6 1965.9,2071.1C1969.0,2076.7 1972.0,2082.1 1975.1,2086.2C1978.2,2090.2 1981.3,2093.5 1984.4,2095.3C1987.4,2097.1 1990.5,2096.8 1993.6,2097.1C1996.7,2097.4 1999.8,2097.1 2002.8,2097.1C2005.9,2097.1 2010.5,2097.1 2012.1,2097.1" fill="none" stroke="#000000" stroke-width="2.6" stroke-linejoin="round"/>
<rect x="317.2" y="2080.8" width="28.0" height="28.0" rx="1.2" fill="#000000"/>
<rect x="501.9" y="2040.4" width="28.0" height="28.0" rx="1.2" fill="#000000"/>
<rect x="686.6" y="2076.2" width="28.0" height="28.0" rx="1.2" fill="#000000"/>
<rect x="871.3" y="1892.9" width="28.0" height="28.0" rx="1.2" fill="#000000"/>
<rect x="1056.0" y="2080.8" width="28.0" height="28.0" rx="1.2" fill="#000000"/>
<rect x="1240.8" y="2081.3" width="28.0" height="28.0" rx="1.2" fill="#000000"/>
<rect x="1425.5" y="2083.3" width="28.0" height="28.0" rx="1.2" fill="#000000"/>
<rect x="1610.2" y="2055.1" width="28.0" height="28.0" rx="1.2" fill="#000000"/>
<rect x="1794.9" y="2081.3" width="28.0" height="28.0" rx="1.2" fill="#000000"/>
<rect x="1979.6" y="2083.1" width="28.0" height="28.0" rx="1.2" fill="#000000"/>
<path d="M238.8,2276.1C240.4,2276.1 245.0,2276.1 248.1,2276.1C251.2,2276.1 254.2,2276.1 257.3,2276.1C260.4,2276.1 263.5,2276.1 266.5,2276.0C269.6,2276.0 272.7,2275.9 275.8,2275.8C278.9,2275.8 281.9,2275.7 285.0,2275.6C288.1,2275.5 291.2,2275.4 294.3,2275.3C297.3,2275.2 300.4,2275.1 303.5,2274.9C306.6,2274.8 309.6,2274.7 312.7,2274.5C315.8,2274.4 318.9,2274.4 322.0,2274.3C325.0,2274.2 328.1,2274.2 331.2,2274.1C334.3,2274.0 337.4,2273.8 340.4,2273.8C343.5,2273.7 346.6,2273.7 349.7,2273.8C352.7,2273.8 355.8,2273.9 358.9,2274.0C362.0,2274.1 365.1,2274.4 368.1,2274.6C371.2,2274.7 374.3,2274.9 377.4,2275.0C380.5,2275.2 383.5,2275.4 386.6,2275.5C389.7,2275.7 392.8,2275.8 395.8,2275.9C398.9,2276.0 402.0,2276.1 405.1,2276.1C408.2,2276.1 411.2,2276.1 414.3,2276.0C417.4,2275.9 420.5,2276.0 423.5,2275.6C426.6,2275.3 429.7,2274.7 432.8,2273.9C435.9,2273.2 438.9,2272.7 442.0,2271.2C445.1,2269.7 448.2,2267.7 451.3,2264.7C454.3,2261.7 457.4,2257.0 460.5,2253.2C463.6,2249.3 466.6,2244.6 469.7,2241.5C472.8,2238.4 475.9,2236.5 479.0,2234.7C482.0,2232.8 485.1,2231.5 488.2,2230.4C491.3,2229.3 494.4,2228.4 497.4,2228.3C500.5,2228.2 503.6,2228.8 506.7,2229.9C509.7,2231.1 512.8,2232.8 515.9,2235.1C519.0,2237.4 522.1,2240.9 525.1,2243.6C528.2,2246.3 531.3,2248.7 534.4,2251.3C537.5,2253.9 540.5,2256.4 543.6,2259.2C546.7,2262.1 549.8,2265.7 552.8,2268.5C555.9,2271.4 559.0,2275.4 562.1,2276.1C565.2,2276.8 568.2,2274.9 571.3,2272.6C574.4,2270.3 577.5,2266.7 580.6,2262.4C583.6,2258.2 586.7,2251.9 589.8,2247.1C592.9,2242.3 595.9,2237.6 599.0,2233.7C602.1,2229.8 605.2,2226.6 608.3,2223.7C611.3,2220.8 614.4,2218.3 617.5,2216.3C620.6,2214.3 623.7,2212.8 626.7,2211.9C629.8,2211.0 632.9,2210.6 636.0,2211.0C639.0,2211.4 642.1,2212.7 645.2,2214.3C648.3,2215.8 651.4,2217.5 654.4,2220.1C657.5,2222.6 660.6,2225.7 663.7,2229.6C666.8,2233.4 669.8,2238.7 672.9,2243.0C676.0,2247.3 679.1,2251.7 682.1,2255.4C685.2,2259.1 688.3,2262.9 691.4,2265.3C694.5,2267.7 697.5,2268.2 700.6,2269.7C703.7,2271.1 706.8,2273.0 709.9,2274.0C712.9,2274.9 716.0,2275.0 719.1,2275.3C722.2,2275.6 725.2,2275.6 728.3,2275.8C731.4,2275.9 734.5,2275.9 737.6,2276.0C740.6,2276.0 743.7,2276.1 746.8,2276.1C749.9,2276.1 753.0,2276.1 756.0,2276.1C759.1,2276.1 762.2,2276.2 765.3,2276.1C768.3,2276.0 771.4,2275.9 774.5,2275.7C777.6,2275.5 780.7,2275.3 783.7,2275.0C786.8,2274.8 789.9,2274.6 793.0,2274.1C796.1,2273.7 799.1,2273.3 802.2,2272.5C805.3,2271.7 808.4,2270.5 811.4,2269.4C814.5,2268.3 817.6,2267.3 820.7,2265.9C823.8,2264.6 826.8,2263.5 829.9,2261.2C833.0,2258.9 836.1,2255.9 839.2,2252.1C842.2,2248.3 845.3,2244.7 848.4,2238.3C851.5,2232.0 854.5,2224.1 857.6,2213.9C860.7,2203.7 863.8,2189.3 866.9,2177.2C869.9,2165.0 873.0,2153.0 876.1,2141.0C879.2,2129.0 882.3,2116.0 885.3,2105.3C888.4,2094.7 891.5,2084.8 894.6,2077.1C897.6,2069.5 900.7,2063.2 903.8,2059.4C906.9,2055.7 910.0,2054.4 913.0,2054.6C916.1,2054.7 919.2,2056.9 922.3,2060.3C925.4,2063.8 928.4,2067.9 931.5,2075.1C934.6,2082.2 937.7,2092.4 940.7,2103.2C943.8,2113.9 946.9,2128.3 950.0,2139.7C953.1,2151.1 956.1,2160.5 959.2,2171.6C962.3,2182.7 965.4,2195.6 968.4,2206.1C971.5,2216.7 974.6,2227.6 977.7,2234.9C980.8,2242.3 983.8,2246.3 986.9,2250.4C990.0,2254.6 993.1,2257.5 996.2,2259.8C999.2,2262.2 1002.3,2263.1 1005.4,2264.3C1008.5,2265.4 1011.5,2266.1 1014.6,2266.8C1017.7,2267.4 1020.8,2267.9 1023.9,2268.3C1026.9,2268.8 1030.0,2269.1 1033.1,2269.5C1036.2,2269.9 1039.3,2270.3 1042.3,2270.7C1045.4,2271.1 1048.5,2271.5 1051.6,2271.9C1054.6,2272.2 1057.7,2272.5 1060.8,2272.9C1063.9,2273.2 1067.0,2273.5 1070.0,2273.8C1073.1,2274.2 1076.2,2274.7 1079.3,2275.0C1082.4,2275.3 1085.4,2275.6 1088.5,2275.7C1091.6,2275.9 1094.7,2275.9 1097.7,2275.9C1100.8,2276.0 1103.9,2276.0 1107.0,2276.0C1110.1,2276.0 1113.1,2276.0 1116.2,2276.0C1119.3,2275.9 1122.4,2275.9 1125.5,2275.9C1128.5,2275.8 1131.6,2275.8 1134.7,2275.7C1137.8,2275.6 1140.8,2275.5 1143.9,2275.5C1147.0,2275.4 1150.1,2275.3 1153.2,2275.3C1156.2,2275.2 1159.3,2275.2 1162.4,2275.1C1165.5,2275.1 1168.6,2275.0 1171.6,2275.0C1174.7,2274.9 1177.8,2274.9 1180.9,2274.8C1183.9,2274.8 1187.0,2274.8 1190.1,2274.7C1193.2,2274.7 1196.3,2274.7 1199.3,2274.7C1202.4,2274.7 1205.5,2274.7 1208.6,2274.7C1211.7,2274.7 1214.7,2274.8 1217.8,2274.8C1220.9,2274.8 1224.0,2274.9 1227.0,2274.9C1230.1,2274.9 1233.2,2275.0 1236.3,2275.0C1239.4,2275.0 1242.4,2274.9 1245.5,2274.8C1248.6,2274.8 1251.7,2274.6 1254.8,2274.7C1257.8,2274.7 1260.9,2275.0 1264.0,2275.2C1267.1,2275.3 1270.1,2275.6 1273.2,2275.8C1276.3,2275.9 1279.4,2275.9 1282.5,2275.9C1285.5,2275.9 1288.6,2275.9 1291.7,2276.0C1294.8,2276.0 1297.9,2276.0 1300.9,2276.0C1304.0,2276.0 1307.1,2276.0 1310.2,2276.0C1313.2,2276.0 1316.3,2276.0 1319.4,2276.0C1322.5,2276.0 1325.6,2276.0 1328.6,2276.0C1331.7,2276.0 1334.8,2276.0 1337.9,2276.0C1341.0,2276.0 1344.0,2276.1 1347.1,2276.1C1350.2,2276.1 1353.3,2276.1 1356.3,2276.1C1359.4,2276.1 1362.5,2276.1 1365.6,2276.1C1368.7,2276.1 1371.7,2276.1 1374.8,2276.1C1377.9,2276.1 1381.0,2276.1 1384.1,2276.1C1387.1,2276.1 1390.2,2276.1 1393.3,2276.1C1396.4,2276.1 1399.4,2276.1 1402.5,2276.1C1405.6,2276.1 1408.7,2276.1 1411.8,2276.1C1414.8,2276.1 1417.9,2276.1 1421.0,2276.1C1424.1,2276.1 1427.2,2276.1 1430.2,2276.1C1433.3,2276.1 1436.4,2276.3 1439.5,2276.3C1442.5,2276.4 1445.6,2276.3 1448.7,2276.2C1451.8,2276.2 1454.9,2276.1 1457.9,2276.1C1461.0,2276.1 1464.1,2276.1 1467.2,2276.1C1470.2,2276.1 1473.3,2276.1 1476.4,2276.1C1479.5,2276.1 1482.6,2276.1 1485.6,2276.0C1488.7,2275.9 1491.8,2275.7 1494.9,2275.5C1498.0,2275.3 1501.0,2275.1 1504.1,2274.8C1507.2,2274.6 1510.3,2274.3 1513.3,2273.9C1516.4,2273.5 1519.5,2273.0 1522.6,2272.4C1525.7,2271.9 1528.7,2271.2 1531.8,2270.4C1534.9,2269.7 1538.0,2268.8 1541.1,2268.0C1544.1,2267.2 1547.2,2266.3 1550.3,2265.4C1553.4,2264.5 1556.4,2263.7 1559.5,2262.7C1562.6,2261.8 1565.7,2260.8 1568.8,2259.8C1571.8,2258.8 1574.9,2257.9 1578.0,2256.9C1581.1,2255.9 1584.2,2254.9 1587.2,2254.0C1590.3,2253.1 1593.4,2252.1 1596.5,2251.3C1599.5,2250.5 1602.6,2249.8 1605.7,2249.4C1608.8,2248.9 1611.9,2248.7 1614.9,2248.5C1618.0,2248.3 1621.1,2248.2 1624.2,2248.1C1627.3,2248.0 1630.3,2248.1 1633.4,2248.0C1636.5,2248.0 1639.6,2248.0 1642.6,2248.0C1645.7,2248.0 1648.8,2248.1 1651.9,2248.3C1655.0,2248.5 1658.0,2248.8 1661.1,2249.1C1664.2,2249.4 1667.3,2249.8 1670.4,2250.4C1673.4,2250.9 1676.5,2251.8 1679.6,2252.5C1682.7,2253.2 1685.7,2254.0 1688.8,2254.7C1691.9,2255.4 1695.0,2256.0 1698.1,2256.7C1701.1,2257.4 1704.2,2258.1 1707.3,2258.7C1710.4,2259.4 1713.5,2260.0 1716.5,2260.7C1719.6,2261.3 1722.7,2262.0 1725.8,2262.6C1728.8,2263.2 1731.9,2263.8 1735.0,2264.4C1738.1,2264.9 1741.2,2265.5 1744.2,2266.0C1747.3,2266.5 1750.4,2267.0 1753.5,2267.4C1756.6,2267.9 1759.6,2268.4 1762.7,2268.8C1765.8,2269.2 1768.9,2269.6 1771.9,2269.9C1775.0,2270.3 1778.1,2270.6 1781.2,2271.0C1784.3,2271.3 1787.3,2271.7 1790.4,2272.0C1793.5,2272.3 1796.6,2272.6 1799.7,2273.0C1802.7,2273.3 1805.8,2273.5 1808.9,2274.1C1812.0,2274.6 1815.0,2275.6 1818.1,2276.1C1821.2,2276.5 1824.3,2276.6 1827.4,2276.7C1830.4,2276.8 1833.5,2277.0 1836.6,2276.8C1839.7,2276.6 1842.8,2276.4 1845.8,2275.2C1848.9,2274.1 1852.0,2272.9 1855.1,2269.9C1858.1,2267.0 1861.2,2263.2 1864.3,2257.4C1867.4,2251.5 1870.5,2242.5 1873.5,2234.6C1876.6,2226.6 1879.7,2216.2 1882.8,2209.7C1885.9,2203.1 1888.9,2199.5 1892.0,2195.2C1895.1,2191.0 1898.2,2187.2 1901.2,2184.3C1904.3,2181.4 1907.4,2179.0 1910.5,2177.8C1913.6,2176.5 1916.6,2176.0 1919.7,2176.7C1922.8,2177.5 1925.9,2179.7 1929.0,2182.2C1932.0,2184.7 1935.1,2186.7 1938.2,2191.6C1941.3,2196.6 1944.3,2205.2 1947.4,2211.9C1950.5,2218.5 1953.6,2225.1 1956.7,2231.5C1959.7,2237.9 1962.8,2244.4 1965.9,2250.0C1969.0,2255.6 1972.0,2261.1 1975.1,2265.1C1978.2,2269.2 1981.3,2272.5 1984.4,2274.3C1987.4,2276.1 1990.5,2275.8 1993.6,2276.1C1996.7,2276.4 1999.8,2276.1 2002.8,2276.1C2005.9,2276.1 2010.5,2276.1 2012.1,2276.1" fill="none" stroke="#ff0000" stroke-width="2.6" stroke-linejoin="round"/>
<circle cx="331.2" cy="2274.1" r="15.8" fill="#ff0000"/>
<circle cx="515.9" cy="2235.1" r="15.8" fill="#ff0000"/>
<circle cx="700.6" cy="2269.7" r="15.8" fill="#ff0000"/>
<circle cx="885.3" cy="2105.3" r="15.8" fill="#ff0000"/>
<circle cx="1070.0" cy="2273.8" r="15.8" fill="#ff0000"/>
<circle cx="1254.8" cy="2274.7" r="15.8" fill="#ff0000"/>
<circle cx="1439.5" cy="2276.3" r="15.8" fill="#ff0000"/>
<circle cx="1624.2" cy="2248.1" r="15.8" fill="#ff0000"/>
<circle cx="1808.9" cy="2274.1" r="15.8" fill="#ff0000"/>
<circle cx="1993.6" cy="2276.1" r="15.8" fill="#ff0000"/>
<path d="M238.8,2455.8C240.4,2455.8 245.0,2455.8 248.1,2455.8C251.2,2455.8 254.2,2455.8 257.3,2455.8C260.4,2455.8 263.5,2455.8 266.5,2455.7C269.6,2455.7 272.7,2455.6 275.8,2455.5C278.9,2455.5 281.9,2455.4 285.0,2455.3C288.1,2455.2 291.2,2455.2 294.3,2455.0C297.3,2454.9 300.4,2454.8 303.5,2454.6C306.6,2454.5 309.6,2454.4 312.7,2454.3C315.8,2454.2 318.9,2454.3 322.0,2454.2C325.0,2454.2 328.1,2454.3 331.2,2454.2C334.3,2454.0 337.4,2453.7 340.4,2453.6C343.5,2453.5 346.6,2453.5 349.7,2453.5C352.7,2453.5 355.8,2453.6 358.9,2453.7C362.0,2453.9 365.1,2454.1 368.1,2454.3C371.2,2454.5 374.3,2454.6 377.4,2454.8C380.5,2454.9 383.5,2455.1 386.6,2455.2C389.7,2455.4 392.8,2455.6 395.8,2455.7C398.9,2455.8 402.0,2455.8 405.1,2455.8C408.2,2455.8 411.2,2455.8 414.3,2455.7C417.4,2455.7 420.5,2455.7 423.5,2455.5C426.6,2455.2 429.7,2454.7 432.8,2454.2C435.9,2453.6 438.9,2453.3 442.0,2452.1C445.1,2450.9 448.2,2449.4 451.3,2447.1C454.3,2444.8 457.4,2441.2 460.5,2438.3C463.6,2435.3 466.6,2431.7 469.7,2429.4C472.8,2427.0 475.9,2425.5 479.0,2424.1C482.0,2422.7 485.1,2421.6 488.2,2420.8C491.3,2420.0 494.4,2419.3 497.4,2419.2C500.5,2419.2 503.6,2419.6 506.7,2420.5C509.7,2421.4 512.8,2422.9 515.9,2424.7C519.0,2426.5 522.1,2429.0 525.1,2431.0C528.2,2433.1 531.3,2434.9 534.4,2436.9C537.5,2438.8 540.5,2440.7 543.6,2442.9C546.7,2445.1 549.8,2447.9 552.8,2450.0C555.9,2452.2 559.0,2455.3 562.1,2455.8C565.2,2456.3 568.2,2454.9 571.3,2453.1C574.4,2451.4 577.5,2448.6 580.6,2445.4C583.6,2442.1 586.7,2437.2 589.8,2433.6C592.9,2429.9 595.9,2426.3 599.0,2423.3C602.1,2420.3 605.2,2417.8 608.3,2415.6C611.3,2413.4 614.4,2411.4 617.5,2409.9C620.6,2408.4 623.7,2407.2 626.7,2406.5C629.8,2405.9 632.9,2405.6 636.0,2405.9C639.0,2406.2 642.1,2407.2 645.2,2408.4C648.3,2409.5 651.4,2410.9 654.4,2412.8C657.5,2414.8 660.6,2417.2 663.7,2420.1C666.8,2423.1 669.8,2427.1 672.9,2430.4C676.0,2433.7 679.1,2437.1 682.1,2440.0C685.2,2442.8 688.3,2445.7 691.4,2447.5C694.5,2449.3 697.5,2449.7 700.6,2450.8C703.7,2451.9 706.8,2453.5 709.9,2454.2C712.9,2454.9 716.0,2455.0 719.1,2455.2C722.2,2455.4 725.2,2455.5 728.3,2455.6C731.4,2455.6 734.5,2455.7 737.6,2455.7C740.6,2455.8 743.7,2455.8 746.8,2455.8C749.9,2455.8 753.0,2455.8 756.0,2455.8C759.1,2455.8 762.2,2455.9 765.3,2455.8C768.3,2455.8 771.4,2455.7 774.5,2455.5C777.6,2455.4 780.7,2455.2 783.7,2455.0C786.8,2454.8 789.9,2454.7 793.0,2454.4C796.1,2454.1 799.1,2453.7 802.2,2453.1C805.3,2452.6 808.4,2451.7 811.4,2450.9C814.5,2450.1 817.6,2449.3 820.7,2448.3C823.8,2447.3 826.8,2446.5 829.9,2444.8C833.0,2443.0 836.1,2440.8 839.2,2438.0C842.2,2435.1 845.3,2432.5 848.4,2427.8C851.5,2423.0 854.5,2417.2 857.6,2409.6C860.7,2402.0 863.8,2391.3 866.9,2382.3C869.9,2373.3 873.0,2364.5 876.1,2355.4C879.2,2346.4 882.3,2335.6 885.3,2327.7C888.4,2319.8 891.5,2313.5 894.6,2308.0C897.6,2302.5 900.7,2297.6 903.8,2294.8C906.9,2292.1 910.0,2291.1 913.0,2291.2C916.1,2291.4 919.2,2293.0 922.3,2295.5C925.4,2298.1 928.4,2301.2 931.5,2306.5C934.6,2311.8 937.7,2319.3 940.7,2327.3C943.8,2335.3 946.9,2346.0 950.0,2354.5C953.1,2362.9 956.1,2369.9 959.2,2378.2C962.3,2386.4 965.4,2396.0 968.4,2403.9C971.5,2411.7 974.6,2419.8 977.7,2425.2C980.8,2430.7 983.8,2433.7 986.9,2436.8C990.0,2439.8 993.1,2442.0 996.2,2443.7C999.2,2445.5 1002.3,2446.2 1005.4,2447.0C1008.5,2447.9 1011.5,2448.4 1014.6,2448.9C1017.7,2449.4 1020.8,2449.7 1023.9,2450.1C1026.9,2450.4 1030.0,2450.6 1033.1,2450.9C1036.2,2451.2 1039.3,2451.5 1042.3,2451.8C1045.4,2452.1 1048.5,2452.4 1051.6,2452.7C1054.6,2452.9 1057.7,2453.1 1060.8,2453.3C1063.9,2453.5 1067.0,2453.6 1070.0,2453.9C1073.1,2454.2 1076.2,2454.6 1079.3,2454.9C1082.4,2455.2 1085.4,2455.4 1088.5,2455.5C1091.6,2455.7 1094.7,2455.7 1097.7,2455.7C1100.8,2455.7 1103.9,2455.7 1107.0,2455.7C1110.1,2455.7 1113.1,2455.7 1116.2,2455.6C1119.3,2455.6 1122.4,2455.5 1125.5,2455.5C1128.5,2455.4 1131.6,2455.3 1134.7,2455.1C1137.8,2455.0 1140.8,2454.9 1143.9,2454.8C1147.0,2454.7 1150.1,2454.6 1153.2,2454.5C1156.2,2454.4 1159.3,2454.3 1162.4,2454.2C1165.5,2454.1 1168.6,2454.0 1171.6,2454.0C1174.7,2453.9 1177.8,2453.8 1180.9,2453.7C1183.9,2453.7 1187.0,2453.6 1190.1,2453.5C1193.2,2453.5 1196.3,2453.5 1199.3,2453.5C1202.4,2453.5 1205.5,2453.5 1208.6,2453.5C1211.7,2453.6 1214.7,2453.6 1217.8,2453.6C1220.9,2453.7 1224.0,2453.8 1227.0,2453.8C1230.1,2453.9 1233.2,2454.0 1236.3,2454.0C1239.4,2454.0 1242.4,2454.0 1245.5,2453.9C1248.6,2453.9 1251.7,2453.7 1254.8,2453.8C1257.8,2453.9 1260.9,2454.2 1264.0,2454.4C1267.1,2454.7 1270.1,2455.1 1273.2,2455.3C1276.3,2455.4 1279.4,2455.4 1282.5,2455.5C1285.5,2455.5 1288.6,2455.6 1291.7,2455.6C1294.8,2455.6 1297.9,2455.6 1300.9,2455.7C1304.0,2455.7 1307.1,2455.7 1310.2,2455.7C1313.2,2455.7 1316.3,2455.7 1319.4,2455.7C1322.5,2455.7 1325.6,2455.7 1328.6,2455.7C1331.7,2455.7 1334.8,2455.7 1337.9,2455.7C1341.0,2455.7 1344.0,2455.7 1347.1,2455.8C1350.2,2455.8 1353.3,2455.8 1356.3,2455.8C1359.4,2455.8 1362.5,2455.8 1365.6,2455.8C1368.7,2455.8 1371.7,2455.8 1374.8,2455.8C1377.9,2455.8 1381.0,2455.8 1384.1,2455.8C1387.1,2455.8 1390.2,2455.8 1393.3,2455.8C1396.4,2455.8 1399.4,2455.8 1402.5,2455.8C1405.6,2455.8 1408.7,2455.8 1411.8,2455.8C1414.8,2455.8 1417.9,2455.8 1421.0,2455.8C1424.1,2455.8 1427.2,2455.8 1430.2,2455.8C1433.3,2455.8 1436.4,2455.8 1439.5,2455.8C1442.5,2455.8 1445.6,2455.8 1448.7,2455.8C1451.8,2455.8 1454.9,2455.8 1457.9,2455.8C1461.0,2455.8 1464.1,2455.8 1467.2,2455.8C1470.2,2455.8 1473.3,2455.8 1476.4,2455.8C1479.5,2455.8 1482.6,2455.8 1485.6,2455.7C1488.7,2455.6 1491.8,2455.4 1494.9,2455.3C1498.0,2455.1 1501.0,2455.0 1504.1,2454.7C1507.2,2454.5 1510.3,2454.3 1513.3,2454.0C1516.4,2453.6 1519.5,2453.2 1522.6,2452.7C1525.7,2452.2 1528.7,2451.6 1531.8,2451.0C1534.9,2450.4 1538.0,2449.7 1541.1,2448.9C1544.1,2448.2 1547.2,2447.5 1550.3,2446.7C1553.4,2446.0 1556.4,2445.3 1559.5,2444.5C1562.6,2443.7 1565.7,2442.8 1568.8,2442.0C1571.8,2441.2 1574.9,2440.4 1578.0,2439.5C1581.1,2438.7 1584.2,2437.9 1587.2,2437.1C1590.3,2436.3 1593.4,2435.4 1596.5,2434.8C1599.5,2434.1 1602.6,2433.5 1605.7,2433.1C1608.8,2432.7 1611.9,2432.6 1614.9,2432.4C1618.0,2432.3 1621.1,2432.2 1624.2,2432.1C1627.3,2432.0 1630.3,2432.0 1633.4,2432.0C1636.5,2432.0 1639.6,2431.9 1642.6,2432.0C1645.7,2432.0 1648.8,2432.1 1651.9,2432.2C1655.0,2432.4 1658.0,2432.6 1661.1,2432.9C1664.2,2433.2 1667.3,2433.5 1670.4,2434.0C1673.4,2434.5 1676.5,2435.2 1679.6,2435.8C1682.7,2436.4 1685.7,2437.0 1688.8,2437.6C1691.9,2438.2 1695.0,2438.8 1698.1,2439.4C1701.1,2439.9 1704.2,2440.5 1707.3,2441.1C1710.4,2441.7 1713.5,2442.2 1716.5,2442.7C1719.6,2443.3 1722.7,2443.8 1725.8,2444.4C1728.8,2444.9 1731.9,2445.4 1735.0,2445.9C1738.1,2446.3 1741.2,2446.8 1744.2,2447.2C1747.3,2447.7 1750.4,2448.1 1753.5,2448.5C1756.6,2448.9 1759.6,2449.3 1762.7,2449.6C1765.8,2449.9 1768.9,2450.2 1771.9,2450.5C1775.0,2450.8 1778.1,2451.1 1781.2,2451.4C1784.3,2451.7 1787.3,2452.1 1790.4,2452.5C1793.5,2452.9 1796.6,2453.5 1799.7,2454.0C1802.7,2454.4 1805.8,2454.9 1808.9,2455.2C1812.0,2455.6 1815.0,2455.9 1818.1,2456.0C1821.2,2456.2 1824.3,2456.3 1827.4,2456.3C1830.4,2456.4 1833.5,2456.6 1836.6,2456.4C1839.7,2456.2 1842.8,2456.0 1845.8,2455.2C1848.9,2454.3 1852.0,2453.4 1855.1,2451.2C1858.1,2449.0 1861.2,2446.2 1864.3,2441.7C1867.4,2437.3 1870.5,2430.6 1873.5,2424.6C1876.6,2418.7 1879.7,2410.9 1882.8,2405.9C1885.9,2401.0 1888.9,2398.3 1892.0,2395.1C1895.1,2391.9 1898.2,2389.1 1901.2,2386.9C1904.3,2384.7 1907.4,2382.9 1910.5,2382.0C1913.6,2381.0 1916.6,2380.6 1919.7,2381.2C1922.8,2381.7 1925.9,2383.4 1929.0,2385.3C1932.0,2387.2 1935.1,2388.7 1938.2,2392.4C1941.3,2396.1 1944.3,2402.6 1947.4,2407.6C1950.5,2412.6 1953.6,2417.5 1956.7,2422.3C1959.7,2427.1 1962.8,2432.0 1965.9,2436.3C1969.0,2440.5 1972.0,2444.6 1975.1,2447.6C1978.2,2450.6 1981.3,2453.1 1984.4,2454.5C1987.4,2455.8 1990.5,2455.6 1993.6,2455.8C1996.7,2456.0 1999.8,2455.8 2002.8,2455.8C2005.9,2455.8 2010.5,2455.8 2012.1,2455.8" fill="none" stroke="#0000ff" stroke-width="2.6" stroke-linejoin="round"/>
<polygon points="331.2,2432.5 350.2,2465.0 312.2,2465.0" fill="#0000ff"/>
<polygon points="515.9,2403.0 534.9,2435.5 496.9,2435.5" fill="#0000ff"/>
<polygon points="700.6,2429.1 719.6,2461.6 681.6,2461.6" fill="#0000ff"/>
<polygon points="885.3,2306.0 904.3,2338.5 866.3,2338.5" fill="#0000ff"/>
<polygon points="1070.0,2432.2 1089.0,2464.7 1051.0,2464.7" fill="#0000ff"/>
<polygon points="1254.8,2432.1 1273.8,2464.6 1235.8,2464.6" fill="#0000ff"/>
<polygon points="1439.5,2434.1 1458.5,2466.6 1420.5,2466.6" fill="#0000ff"/>
<polygon points="1624.2,2410.4 1643.2,2442.9 1605.2,2442.9" fill="#0000ff"/>
<polygon points="1808.9,2433.5 1827.9,2466.0 1789.9,2466.0" fill="#0000ff"/>
<polygon points="1993.6,2434.1 2012.6,2466.6 1974.6,2466.6" fill="#0000ff"/>
<path d="M238.8,2670.2C240.4,2670.2 245.0,2670.3 248.1,2670.2C251.2,2670.2 254.2,2670.3 257.3,2670.2C260.4,2670.2 263.5,2670.2 266.5,2670.2C269.6,2670.1 272.7,2670.1 275.8,2670.0C278.9,2669.9 281.9,2669.9 285.0,2669.8C288.1,2669.7 291.2,2669.6 294.3,2669.5C297.3,2669.4 300.4,2669.3 303.5,2669.2C306.6,2669.0 309.6,2668.9 312.7,2668.8C315.8,2668.7 318.9,2668.6 322.0,2668.5C325.0,2668.4 328.1,2668.3 331.2,2668.2C334.3,2668.2 337.4,2668.1 340.4,2668.0C343.5,2668.0 346.6,2668.0 349.7,2668.1C352.7,2668.1 355.8,2668.2 358.9,2668.3C362.0,2668.4 365.1,2668.6 368.1,2668.8C371.2,2669.0 374.3,2669.1 377.4,2669.3C380.5,2669.4 383.5,2669.6 386.6,2669.7C389.7,2669.8 392.8,2670.0 395.8,2670.1C398.9,2670.2 402.0,2670.2 405.1,2670.2C408.2,2670.2 411.2,2670.2 414.3,2670.1C417.4,2670.1 420.5,2670.1 423.5,2669.8C426.6,2669.5 429.7,2668.9 432.8,2668.2C435.9,2667.5 438.9,2667.1 442.0,2665.6C445.1,2664.2 448.2,2662.3 451.3,2659.5C454.3,2656.7 457.4,2652.2 460.5,2648.6C463.6,2644.9 466.6,2640.5 469.7,2637.6C472.8,2634.7 475.9,2632.9 479.0,2631.1C482.0,2629.4 485.1,2628.1 488.2,2627.1C491.3,2626.0 494.4,2625.1 497.4,2625.1C500.5,2625.0 503.6,2625.6 506.7,2626.6C509.7,2627.7 512.8,2629.2 515.9,2631.4C519.0,2633.5 522.1,2637.0 525.1,2639.5C528.2,2642.1 531.3,2644.4 534.4,2646.9C537.5,2649.3 540.5,2651.6 543.6,2654.3C546.7,2657.0 549.8,2660.5 552.8,2663.1C555.9,2665.8 559.0,2669.6 562.1,2670.2C565.2,2670.9 568.2,2669.1 571.3,2666.9C574.4,2664.8 577.5,2661.3 580.6,2657.3C583.6,2653.3 586.7,2647.3 589.8,2642.7C592.9,2638.2 595.9,2633.7 599.0,2630.0C602.1,2626.3 605.2,2623.3 608.3,2620.5C611.3,2617.8 614.4,2615.4 617.5,2613.5C620.6,2611.6 623.7,2610.2 626.7,2609.3C629.8,2608.5 632.9,2608.1 636.0,2608.5C639.0,2608.8 642.1,2610.1 645.2,2611.6C648.3,2613.0 651.4,2614.7 654.4,2617.1C657.5,2619.5 660.6,2622.5 663.7,2626.1C666.8,2629.7 669.8,2634.8 672.9,2638.9C676.0,2643.0 679.1,2647.1 682.1,2650.6C685.2,2654.2 688.3,2657.8 691.4,2660.0C694.5,2662.2 697.5,2662.4 700.6,2663.8C703.7,2665.2 706.8,2667.3 709.9,2668.2C712.9,2669.2 716.0,2669.2 719.1,2669.5C722.2,2669.7 725.2,2669.8 728.3,2669.9C731.4,2670.0 734.5,2670.1 737.6,2670.2C740.6,2670.2 743.7,2670.2 746.8,2670.2C749.9,2670.3 753.0,2670.2 756.0,2670.2C759.1,2670.2 762.2,2670.3 765.3,2670.2C768.3,2670.2 771.4,2670.1 774.5,2669.9C777.6,2669.7 780.7,2669.5 783.7,2669.3C786.8,2669.1 789.9,2668.9 793.0,2668.5C796.1,2668.2 799.1,2667.8 802.2,2667.1C805.3,2666.4 808.4,2665.4 811.4,2664.4C814.5,2663.5 817.6,2662.6 820.7,2661.4C823.8,2660.2 826.8,2659.3 829.9,2657.3C833.0,2655.3 836.1,2652.6 839.2,2649.3C842.2,2646.0 845.3,2642.9 848.4,2637.4C851.5,2631.9 854.5,2625.0 857.6,2616.1C860.7,2607.2 863.8,2594.7 866.9,2584.1C869.9,2573.6 873.0,2563.5 876.1,2552.7C879.2,2541.8 882.3,2528.4 885.3,2519.1C888.4,2509.9 891.5,2503.3 894.6,2497.1C897.6,2490.8 900.7,2484.9 903.8,2481.7C906.9,2478.4 910.0,2477.3 913.0,2477.5C916.1,2477.6 919.2,2479.5 922.3,2482.5C925.4,2485.4 928.4,2489.1 931.5,2495.3C934.6,2501.5 937.7,2510.4 940.7,2519.7C943.8,2529.1 946.9,2541.6 950.0,2551.5C953.1,2561.4 956.1,2569.6 959.2,2579.3C962.3,2588.9 965.4,2600.2 968.4,2609.4C971.5,2618.6 974.6,2628.0 977.7,2634.4C980.8,2640.9 983.8,2644.3 986.9,2647.9C990.0,2651.5 993.1,2654.1 996.2,2656.1C999.2,2658.1 1002.3,2659.0 1005.4,2660.0C1008.5,2661.0 1011.5,2661.5 1014.6,2662.1C1017.7,2662.7 1020.8,2663.1 1023.9,2663.5C1026.9,2663.9 1030.0,2664.2 1033.1,2664.5C1036.2,2664.8 1039.3,2665.2 1042.3,2665.5C1045.4,2665.9 1048.5,2666.3 1051.6,2666.6C1054.6,2666.9 1057.7,2667.1 1060.8,2667.4C1063.9,2667.7 1067.0,2667.9 1070.0,2668.2C1073.1,2668.5 1076.2,2669.0 1079.3,2669.3C1082.4,2669.6 1085.4,2669.8 1088.5,2669.9C1091.6,2670.1 1094.7,2670.1 1097.7,2670.1C1100.8,2670.1 1103.9,2670.2 1107.0,2670.2C1110.1,2670.2 1113.1,2670.1 1116.2,2670.1C1119.3,2670.0 1122.4,2670.0 1125.5,2669.9C1128.5,2669.8 1131.6,2669.7 1134.7,2669.5C1137.8,2669.4 1140.8,2669.2 1143.9,2669.1C1147.0,2669.0 1150.1,2668.9 1153.2,2668.8C1156.2,2668.7 1159.3,2668.6 1162.4,2668.5C1165.5,2668.4 1168.6,2668.3 1171.6,2668.3C1174.7,2668.2 1177.8,2668.1 1180.9,2668.0C1183.9,2667.9 1187.0,2667.9 1190.1,2667.8C1193.2,2667.8 1196.3,2667.8 1199.3,2667.8C1202.4,2667.8 1205.5,2667.8 1208.6,2667.8C1211.7,2667.8 1214.7,2667.9 1217.8,2667.9C1220.9,2668.0 1224.0,2668.0 1227.0,2668.1C1230.1,2668.2 1233.2,2668.3 1236.3,2668.3C1239.4,2668.4 1242.4,2668.4 1245.5,2668.4C1248.6,2668.4 1251.7,2668.4 1254.8,2668.5C1257.8,2668.6 1260.9,2668.8 1264.0,2669.0C1267.1,2669.2 1270.1,2669.5 1273.2,2669.7C1276.3,2669.8 1279.4,2669.8 1282.5,2669.9C1285.5,2669.9 1288.6,2670.0 1291.7,2670.0C1294.8,2670.0 1297.9,2670.1 1300.9,2670.1C1304.0,2670.1 1307.1,2670.1 1310.2,2670.1C1313.2,2670.1 1316.3,2670.1 1319.4,2670.1C1322.5,2670.1 1325.6,2670.1 1328.6,2670.1C1331.7,2670.1 1334.8,2670.2 1337.9,2670.2C1341.0,2670.2 1344.0,2670.2 1347.1,2670.2C1350.2,2670.2 1353.3,2670.2 1356.3,2670.2C1359.4,2670.2 1362.5,2670.2 1365.6,2670.2C1368.7,2670.2 1371.7,2670.2 1374.8,2670.2C1377.9,2670.2 1381.0,2670.2 1384.1,2670.2C1387.1,2670.3 1390.2,2670.2 1393.3,2670.2C1396.4,2670.2 1399.4,2670.2 1402.5,2670.2C1405.6,2670.2 1408.7,2670.2 1411.8,2670.2C1414.8,2670.2 1417.9,2670.2 1421.0,2670.2C1424.1,2670.2 1427.2,2670.2 1430.2,2670.2C1433.3,2670.3 1436.4,2670.5 1439.5,2670.5C1442.5,2670.5 1445.6,2670.4 1448.7,2670.4C1451.8,2670.4 1454.9,2670.3 1457.9,2670.3C1461.0,2670.2 1464.1,2670.3 1467.2,2670.2C1470.2,2670.2 1473.3,2670.3 1476.4,2670.2C1479.5,2670.2 1482.6,2670.2 1485.6,2670.1C1488.7,2670.0 1491.8,2669.8 1494.9,2669.7C1498.0,2669.5 1501.0,2669.3 1504.1,2669.1C1507.2,2668.9 1510.3,2668.6 1513.3,2668.3C1516.4,2667.9 1519.5,2667.5 1522.6,2666.9C1525.7,2666.4 1528.7,2665.8 1531.8,2665.1C1534.9,2664.5 1538.0,2663.7 1541.1,2662.9C1544.1,2662.2 1547.2,2661.4 1550.3,2660.6C1553.4,2659.8 1556.4,2659.0 1559.5,2658.2C1562.6,2657.4 1565.7,2656.4 1568.8,2655.5C1571.8,2654.7 1574.9,2653.8 1578.0,2652.9C1581.1,2652.1 1584.2,2651.2 1587.2,2650.3C1590.3,2649.5 1593.4,2648.6 1596.5,2647.9C1599.5,2647.2 1602.6,2646.5 1605.7,2646.1C1608.8,2645.7 1611.9,2645.7 1614.9,2645.4C1618.0,2645.2 1621.1,2644.6 1624.2,2644.5C1627.3,2644.4 1630.3,2644.5 1633.4,2644.6C1636.5,2644.7 1639.6,2644.8 1642.6,2644.9C1645.7,2645.0 1648.8,2645.1 1651.9,2645.3C1655.0,2645.4 1658.0,2645.6 1661.1,2645.9C1664.2,2646.2 1667.3,2646.5 1670.4,2647.0C1673.4,2647.5 1676.5,2648.3 1679.6,2648.9C1682.7,2649.6 1685.7,2650.3 1688.8,2650.9C1691.9,2651.6 1695.0,2652.1 1698.1,2652.8C1701.1,2653.4 1704.2,2654.0 1707.3,2654.6C1710.4,2655.2 1713.5,2655.8 1716.5,2656.3C1719.6,2656.9 1722.7,2657.5 1725.8,2658.1C1728.8,2658.6 1731.9,2659.2 1735.0,2659.7C1738.1,2660.2 1741.2,2660.7 1744.2,2661.1C1747.3,2661.6 1750.4,2662.0 1753.5,2662.4C1756.6,2662.9 1759.6,2663.3 1762.7,2663.6C1765.8,2664.0 1768.9,2664.3 1771.9,2664.7C1775.0,2665.0 1778.1,2665.3 1781.2,2665.6C1784.3,2665.9 1787.3,2666.3 1790.4,2666.7C1793.5,2667.1 1796.6,2667.5 1799.7,2667.9C1802.7,2668.4 1805.8,2668.8 1808.9,2669.2C1812.0,2669.6 1815.0,2670.1 1818.1,2670.4C1821.2,2670.7 1824.3,2670.7 1827.4,2670.8C1830.4,2670.9 1833.5,2671.1 1836.6,2670.9C1839.7,2670.7 1842.8,2670.5 1845.8,2669.5C1848.9,2668.6 1852.0,2667.6 1855.1,2665.1C1858.1,2662.6 1861.2,2659.5 1864.3,2654.6C1867.4,2649.7 1870.5,2642.3 1873.5,2635.6C1876.6,2629.0 1879.7,2620.4 1882.8,2614.9C1885.9,2609.4 1888.9,2606.4 1892.0,2602.8C1895.1,2599.3 1898.2,2596.1 1901.2,2593.7C1904.3,2591.3 1907.4,2589.3 1910.5,2588.3C1913.6,2587.2 1916.6,2586.8 1919.7,2587.4C1922.8,2588.0 1925.9,2589.9 1929.0,2592.0C1932.0,2594.0 1935.1,2595.7 1938.2,2599.8C1941.3,2604.0 1944.3,2611.2 1947.4,2616.7C1950.5,2622.2 1953.6,2627.8 1956.7,2633.1C1959.7,2638.4 1962.8,2643.9 1965.9,2648.5C1969.0,2653.2 1972.0,2657.7 1975.1,2661.1C1978.2,2664.5 1981.3,2667.2 1984.4,2668.7C1987.4,2670.3 1990.5,2670.0 1993.6,2670.2C1996.7,2670.5 1999.8,2670.2 2002.8,2670.2C2005.9,2670.2 2010.5,2670.2 2012.1,2670.2" fill="none" stroke="#ff00ff" stroke-width="2.6" stroke-linejoin="round"/>
<polygon points="312.2,2657.4 350.2,2657.4 331.2,2689.9" fill="#ff00ff"/>
<polygon points="496.9,2620.6 534.9,2620.6 515.9,2653.1" fill="#ff00ff"/>
<polygon points="681.6,2653.0 719.6,2653.0 700.6,2685.5" fill="#ff00ff"/>
<polygon points="866.3,2508.3 904.3,2508.3 885.3,2540.8" fill="#ff00ff"/>
<polygon points="1051.0,2657.4 1089.0,2657.4 1070.0,2689.9" fill="#ff00ff"/>
<polygon points="1235.8,2657.7 1273.8,2657.7 1254.8,2690.2" fill="#ff00ff"/>
<polygon points="1420.5,2659.7 1458.5,2659.7 1439.5,2692.2" fill="#ff00ff"/>
<polygon points="1605.2,2633.7 1643.2,2633.7 1624.2,2666.2" fill="#ff00ff"/>
<polygon points="1789.9,2658.4 1827.9,2658.4 1808.9,2690.9" fill="#ff00ff"/>
<polygon points="1974.6,2659.4 2012.6,2659.4 1993.6,2691.9" fill="#ff00ff"/>
<path d="M238.8,2896.6C240.4,2896.6 245.0,2896.6 248.1,2896.6C251.2,2896.6 254.2,2896.6 257.3,2896.6C260.4,2896.6 263.5,2896.6 266.5,2896.6C269.6,2896.6 272.7,2896.6 275.8,2896.6C278.9,2896.6 281.9,2896.6 285.0,2896.6C288.1,2896.6 291.2,2896.5 294.3,2896.4C297.3,2896.3 300.4,2896.1 303.5,2895.9C306.6,2895.6 309.6,2895.3 312.7,2895.1C315.8,2894.8 318.9,2894.4 322.0,2894.1C325.0,2893.8 328.1,2893.4 331.2,2893.3C334.3,2893.2 337.4,2893.3 340.4,2893.4C343.5,2893.5 346.6,2893.7 349.7,2893.9C352.7,2894.1 355.8,2894.3 358.9,2894.6C362.0,2894.8 365.1,2895.1 368.1,2895.4C371.2,2895.6 374.3,2895.9 377.4,2896.0C380.5,2896.2 383.5,2896.4 386.6,2896.5C389.7,2896.7 392.8,2896.8 395.8,2896.8C398.9,2896.9 402.0,2896.8 405.1,2896.8C408.2,2896.7 411.2,2896.6 414.3,2896.5C417.4,2896.4 420.5,2896.4 423.5,2896.1C426.6,2895.9 429.7,2895.7 432.8,2895.0C435.9,2894.3 438.9,2893.5 442.0,2892.2C445.1,2890.9 448.2,2889.3 451.3,2887.2C454.3,2885.0 457.4,2882.3 460.5,2879.2C463.6,2876.1 466.6,2871.7 469.7,2868.4C472.8,2865.1 475.9,2862.4 479.0,2859.2C482.0,2855.9 485.1,2852.4 488.2,2848.9C491.3,2845.3 494.4,2840.3 497.4,2837.9C500.5,2835.5 503.6,2833.1 506.7,2834.3C509.7,2835.5 512.8,2840.0 515.9,2845.1C519.0,2850.2 522.1,2859.6 525.1,2865.0C528.2,2870.4 531.3,2873.6 534.4,2877.6C537.5,2881.7 540.5,2886.3 543.6,2889.2C546.7,2892.2 549.8,2894.0 552.8,2895.2C555.9,2896.5 559.0,2896.9 562.1,2896.6C565.2,2896.3 568.2,2895.3 571.3,2893.7C574.4,2892.1 577.5,2889.8 580.6,2886.9C583.6,2884.0 586.7,2880.4 589.8,2876.5C592.9,2872.5 595.9,2867.7 599.0,2863.3C602.1,2858.8 605.2,2854.1 608.3,2849.7C611.3,2845.3 614.4,2841.0 617.5,2836.8C620.6,2832.5 623.7,2827.1 626.7,2824.2C629.8,2821.3 632.9,2819.4 636.0,2819.5C639.0,2819.5 642.1,2821.1 645.2,2824.7C648.3,2828.4 651.4,2835.5 654.4,2841.2C657.5,2846.8 660.6,2853.6 663.7,2858.8C666.8,2864.0 669.8,2868.3 672.9,2872.4C676.0,2876.5 679.1,2880.4 682.1,2883.4C685.2,2886.5 688.3,2889.0 691.4,2890.6C694.5,2892.2 697.5,2892.2 700.6,2892.9C703.7,2893.7 706.8,2894.5 709.9,2895.0C712.9,2895.5 716.0,2895.6 719.1,2895.9C722.2,2896.1 725.2,2896.2 728.3,2896.4C731.4,2896.5 734.5,2896.6 737.6,2896.6C740.6,2896.7 743.7,2896.7 746.8,2896.7C749.9,2896.7 753.0,2896.7 756.0,2896.7C759.1,2896.7 762.2,2896.8 765.3,2896.7C768.3,2896.7 771.4,2896.5 774.5,2896.3C777.6,2896.1 780.7,2895.9 783.7,2895.7C786.8,2895.5 789.9,2895.4 793.0,2895.0C796.1,2894.7 799.1,2894.4 802.2,2893.6C805.3,2892.7 808.4,2891.5 811.4,2890.2C814.5,2888.9 817.6,2887.6 820.7,2885.9C823.8,2884.3 826.8,2882.4 829.9,2880.3C833.0,2878.1 836.1,2875.9 839.2,2873.0C842.2,2870.1 845.3,2867.5 848.4,2862.9C851.5,2858.2 854.5,2852.6 857.6,2845.2C860.7,2837.9 863.8,2828.2 866.9,2818.7C869.9,2809.2 873.0,2798.4 876.1,2788.2C879.2,2778.1 882.3,2770.7 885.3,2757.8C888.4,2744.9 891.5,2723.2 894.6,2711.0C897.6,2698.8 900.7,2693.8 903.8,2684.7C906.9,2675.6 910.0,2659.9 913.0,2656.6C916.1,2653.2 919.2,2657.6 922.3,2664.6C925.4,2671.7 928.4,2684.5 931.5,2698.8C934.6,2713.0 937.7,2733.4 940.7,2750.0C943.8,2766.6 946.9,2784.0 950.0,2798.3C953.1,2812.7 956.1,2826.3 959.2,2836.0C962.3,2845.6 965.4,2851.0 968.4,2856.1C971.5,2861.2 974.6,2863.5 977.7,2866.4C980.8,2869.4 983.8,2871.5 986.9,2873.6C990.0,2875.7 993.1,2877.3 996.2,2879.0C999.2,2880.6 1002.3,2882.1 1005.4,2883.3C1008.5,2884.5 1011.5,2885.3 1014.6,2886.1C1017.7,2886.8 1020.8,2887.4 1023.9,2888.0C1026.9,2888.6 1030.0,2889.1 1033.1,2889.6C1036.2,2890.1 1039.3,2890.5 1042.3,2891.0C1045.4,2891.4 1048.5,2891.8 1051.6,2892.2C1054.6,2892.6 1057.7,2893.1 1060.8,2893.4C1063.9,2893.8 1067.0,2894.1 1070.0,2894.3C1073.1,2894.6 1076.2,2894.7 1079.3,2894.8C1082.4,2894.9 1085.4,2895.0 1088.5,2895.1C1091.6,2895.2 1094.7,2895.3 1097.7,2895.4C1100.8,2895.6 1103.9,2895.7 1107.0,2895.8C1110.1,2896.0 1113.1,2896.1 1116.2,2896.2C1119.3,2896.3 1122.4,2896.3 1125.5,2896.4C1128.5,2896.4 1131.6,2896.4 1134.7,2896.4C1137.8,2896.4 1140.8,2896.3 1143.9,2896.3C1147.0,2896.3 1150.1,2896.3 1153.2,2896.3C1156.2,2896.3 1159.3,2896.3 1162.4,2896.3C1165.5,2896.3 1168.6,2896.2 1171.6,2896.2C1174.7,2896.2 1177.8,2896.2 1180.9,2896.2C1183.9,2896.2 1187.0,2896.2 1190.1,2896.1C1193.2,2896.1 1196.3,2896.1 1199.3,2896.1C1202.4,2896.1 1205.5,2896.1 1208.6,2896.1C1211.7,2896.1 1214.7,2896.1 1217.8,2896.1C1220.9,2896.1 1224.0,2896.1 1227.0,2896.1C1230.1,2896.2 1233.2,2896.2 1236.3,2896.3C1239.4,2896.3 1242.4,2896.4 1245.5,2896.5C1248.6,2896.5 1251.7,2896.6 1254.8,2896.6C1257.8,2896.6 1260.9,2896.5 1264.0,2896.5C1267.1,2896.4 1270.1,2896.3 1273.2,2896.2C1276.3,2896.2 1279.4,2896.1 1282.5,2896.1C1285.5,2896.1 1288.6,2896.2 1291.7,2896.3C1294.8,2896.4 1297.9,2896.5 1300.9,2896.6C1304.0,2896.6 1307.1,2896.7 1310.2,2896.7C1313.2,2896.7 1316.3,2896.7 1319.4,2896.6C1322.5,2896.6 1325.6,2896.5 1328.6,2896.4C1331.7,2896.4 1334.8,2896.3 1337.9,2896.2C1341.0,2896.1 1344.0,2896.0 1347.1,2895.9C1350.2,2895.8 1353.3,2895.7 1356.3,2895.7C1359.4,2895.6 1362.5,2895.7 1365.6,2895.7C1368.7,2895.7 1371.7,2895.8 1374.8,2895.9C1377.9,2896.0 1381.0,2896.1 1384.1,2896.1C1387.1,2896.2 1390.2,2896.3 1393.3,2896.4C1396.4,2896.4 1399.4,2896.5 1402.5,2896.5C1405.6,2896.4 1408.7,2896.1 1411.8,2895.9C1414.8,2895.8 1417.9,2895.8 1421.0,2895.7C1424.1,2895.7 1427.2,2895.6 1430.2,2895.6C1433.3,2895.6 1436.4,2895.5 1439.5,2895.5C1442.5,2895.6 1445.6,2895.6 1448.7,2895.7C1451.8,2895.8 1454.9,2896.0 1457.9,2896.1C1461.0,2896.1 1464.1,2896.2 1467.2,2896.2C1470.2,2896.3 1473.3,2896.3 1476.4,2896.3C1479.5,2896.4 1482.6,2896.4 1485.6,2896.4C1488.7,2896.5 1491.8,2896.5 1494.9,2896.5C1498.0,2896.5 1501.0,2896.6 1504.1,2896.6C1507.2,2896.6 1510.3,2896.7 1513.3,2896.7C1516.4,2896.8 1519.5,2896.9 1522.6,2896.8C1525.7,2896.8 1528.7,2896.7 1531.8,2896.4C1534.9,2896.0 1538.0,2895.2 1541.1,2894.6C1544.1,2894.0 1547.2,2893.2 1550.3,2892.6C1553.4,2892.0 1556.4,2891.5 1559.5,2891.1C1562.6,2890.6 1565.7,2890.2 1568.8,2889.7C1571.8,2889.3 1574.9,2888.9 1578.0,2888.5C1581.1,2888.0 1584.2,2887.6 1587.2,2887.2C1590.3,2886.8 1593.4,2886.4 1596.5,2886.2C1599.5,2886.0 1602.6,2886.0 1605.7,2885.9C1608.8,2885.8 1611.9,2885.8 1614.9,2885.8C1618.0,2885.8 1621.1,2885.6 1624.2,2885.8C1627.3,2885.9 1630.3,2886.1 1633.4,2886.5C1636.5,2887.0 1639.6,2887.6 1642.6,2888.5C1645.7,2889.4 1648.8,2890.9 1651.9,2891.9C1655.0,2893.0 1658.0,2894.1 1661.1,2894.9C1664.2,2895.7 1667.3,2896.6 1670.4,2896.6C1673.4,2896.6 1676.5,2895.2 1679.6,2894.7C1682.7,2894.2 1685.7,2893.7 1688.8,2893.7C1691.9,2893.6 1695.0,2893.8 1698.1,2894.1C1701.1,2894.4 1704.2,2894.9 1707.3,2895.4C1710.4,2895.8 1713.5,2896.6 1716.5,2896.8C1719.6,2897.1 1722.7,2896.8 1725.8,2896.8C1728.8,2896.7 1731.9,2896.7 1735.0,2896.7C1738.1,2896.6 1741.2,2896.6 1744.2,2896.6C1747.3,2896.6 1750.4,2896.6 1753.5,2896.6C1756.6,2896.6 1759.6,2896.6 1762.7,2896.6C1765.8,2896.6 1768.9,2896.8 1771.9,2896.6C1775.0,2896.4 1778.1,2895.7 1781.2,2895.5C1784.3,2895.3 1787.3,2895.5 1790.4,2895.6C1793.5,2895.7 1796.6,2896.0 1799.7,2896.2C1802.7,2896.5 1805.8,2897.0 1808.9,2897.1C1812.0,2897.2 1815.0,2896.9 1818.1,2896.8C1821.2,2896.7 1824.3,2896.6 1827.4,2896.7C1830.4,2896.7 1833.5,2896.9 1836.6,2896.8C1839.7,2896.8 1842.8,2896.9 1845.8,2896.4C1848.9,2896.0 1852.0,2895.5 1855.1,2894.3C1858.1,2893.2 1861.2,2891.4 1864.3,2889.3C1867.4,2887.2 1870.5,2885.3 1873.5,2881.9C1876.6,2878.5 1879.7,2875.3 1882.8,2869.0C1885.9,2862.6 1888.9,2853.4 1892.0,2843.9C1895.1,2834.4 1898.2,2822.9 1901.2,2812.1C1904.3,2801.4 1907.4,2786.7 1910.5,2779.5C1913.6,2772.3 1916.6,2767.6 1919.7,2769.0C1922.8,2770.5 1925.9,2778.9 1929.0,2788.1C1932.0,2797.2 1935.1,2812.7 1938.2,2824.0C1941.3,2835.3 1944.3,2846.4 1947.4,2855.7C1950.5,2865.0 1953.6,2874.6 1956.7,2879.9C1959.7,2885.3 1962.8,2885.6 1965.9,2887.8C1969.0,2889.9 1972.0,2891.6 1975.1,2892.9C1978.2,2894.2 1981.3,2894.9 1984.4,2895.5C1987.4,2896.1 1990.5,2896.4 1993.6,2896.6C1996.7,2896.8 1999.8,2896.6 2002.8,2896.6C2005.9,2896.6 2010.5,2896.6 2012.1,2896.6" fill="none" stroke="#007f00" stroke-width="2.6" stroke-linejoin="round"/>
<polygon points="331.2,2873.3 350.7,2893.3 331.2,2913.3 311.7,2893.3" fill="#007f00"/>
<polygon points="515.9,2825.1 535.4,2845.1 515.9,2865.1 496.4,2845.1" fill="#007f00"/>
<polygon points="700.6,2872.9 720.1,2892.9 700.6,2912.9 681.1,2892.9" fill="#007f00"/>
<polygon points="885.3,2737.8 904.8,2757.8 885.3,2777.8 865.8,2757.8" fill="#007f00"/>
<polygon points="1070.0,2874.3 1089.5,2894.3 1070.0,2914.3 1050.5,2894.3" fill="#007f00"/>
<polygon points="1254.8,2876.6 1274.3,2896.6 1254.8,2916.6 1235.3,2896.6" fill="#007f00"/>
<polygon points="1439.5,2875.5 1459.0,2895.5 1439.5,2915.5 1420.0,2895.5" fill="#007f00"/>
<polygon points="1624.2,2865.8 1643.7,2885.8 1624.2,2905.8 1604.7,2885.8" fill="#007f00"/>
<polygon points="1808.9,2877.1 1828.4,2897.1 1808.9,2917.1 1789.4,2897.1" fill="#007f00"/>
<polygon points="1993.6,2876.6 2013.1,2896.6 1993.6,2916.6 1974.1,2896.6" fill="#007f00"/>
</g>
<line x1="924.8" y1="2150.6" x2="1103.6" y2="1964.1" stroke="#000" stroke-width="3.0"/>
<polygon points="1123.7,1943.2 1106.6,1972.6 1095.1,1961.5" fill="#000"/>
<line x1="614.2" y1="2444.7" x2="1092.2" y2="2379.1" stroke="#000" stroke-width="3.0"/>
<polygon points="1120.9,2375.2 1089.3,2387.6 1087.1,2371.8" fill="#000"/>
<text x="1141.0" y="1950.7" style="font-family:'Liberation Sans',Arial,sans-serif;font-size:58px;letter-spacing:1.0px">909 cm<tspan dx="1.5" dy="-33" style="font-size:36px;letter-spacing:0px">-1</tspan></text>
<text x="1126.0" y="2376.0" style="font-family:'Liberation Sans',Arial,sans-serif;font-size:58px;letter-spacing:1.0px">965 cm<tspan dx="1.5" dy="-33" style="font-size:36px;letter-spacing:0px">-1</tspan></text>
<rect x="1418.5" y="2742.0" width="479.2" height="368.5" fill="#fff" stroke="#000" stroke-width="2.8"/>
<line x1="1441.5" y1="2785.4" x2="1575.5" y2="2785.4" stroke="#000000" stroke-width="2.7" stroke-linecap="round"/>
<rect x="1494.1" y="2771.4" width="28.0" height="28.0" rx="1.2" fill="#000000"/>
<text x="1591.0" y="2806.0" style="font-family:'Liberation Sans',Arial,sans-serif;font-size:60px;letter-spacing:0.6px">k0,0</text>
<line x1="1441.5" y1="2858.4" x2="1575.5" y2="2858.4" stroke="#ff0000" stroke-width="2.7" stroke-linecap="round"/>
<circle cx="1508.1" cy="2858.4" r="15.8" fill="#ff0000"/>
<text x="1591.0" y="2879.0" style="font-family:'Liberation Sans',Arial,sans-serif;font-size:60px;letter-spacing:0.6px">kUV,0.2,30</text>
<line x1="1441.5" y1="2931.4" x2="1575.5" y2="2931.4" stroke="#0000ff" stroke-width="2.7" stroke-linecap="round"/>
<polygon points="1508.1,2909.7 1527.1,2942.2 1489.1,2942.2" fill="#0000ff"/>
<text x="1591.0" y="2952.0" style="font-family:'Liberation Sans',Arial,sans-serif;font-size:60px;letter-spacing:0.6px">kUV,0.6,30</text>
<line x1="1441.5" y1="3004.4" x2="1575.5" y2="3004.4" stroke="#ff00ff" stroke-width="2.7" stroke-linecap="round"/>
<polygon points="1489.1,2993.6 1527.1,2993.6 1508.1,3026.1" fill="#ff00ff"/>
<text x="1591.0" y="3025.0" style="font-family:'Liberation Sans',Arial,sans-serif;font-size:60px;letter-spacing:0.6px">kUV,1.0,30</text>
<line x1="1441.5" y1="3077.4" x2="1575.5" y2="3077.4" stroke="#007f00" stroke-width="2.7" stroke-linecap="round"/>
<polygon points="1508.1,3057.4 1527.6,3077.4 1508.1,3097.4 1488.6,3077.4" fill="#007f00"/>
<text x="1591.0" y="3098.0" style="font-family:'Liberation Sans',Arial,sans-serif;font-size:60px;letter-spacing:0.6px">kUV,1.5,30</text>
<text x="236.5" y="1866" style="font-family:'Liberation Sans',Arial,sans-serif;font-size:59px;letter-spacing:0.75px">(b)</text>
<line x1="234.6" y1="1806.7" x2="234.6" y2="3120.2" stroke="#000" stroke-width="5.6"/>
<line x1="234.6" y1="3120.2" x2="2009.8" y2="3120.2" stroke="#000" stroke-width="5.8"/>
<line x1="207.6" y1="3000.6" x2="234.6" y2="3000.6" stroke="#000" stroke-width="5.6"/>
<line x1="207.6" y1="2762.1" x2="234.6" y2="2762.1" stroke="#000" stroke-width="5.6"/>
<line x1="207.6" y1="2523.6" x2="234.6" y2="2523.6" stroke="#000" stroke-width="5.6"/>
<line x1="207.6" y1="2285.0" x2="234.6" y2="2285.0" stroke="#000" stroke-width="5.6"/>
<line x1="207.6" y1="2046.5" x2="234.6" y2="2046.5" stroke="#000" stroke-width="5.6"/>
<line x1="207.6" y1="1808.0" x2="234.6" y2="1808.0" stroke="#000" stroke-width="5.6"/>
<line x1="219.6" y1="3119.9" x2="234.6" y2="3119.9" stroke="#000" stroke-width="5.6"/>
<line x1="219.6" y1="2881.3" x2="234.6" y2="2881.3" stroke="#000" stroke-width="5.6"/>
<line x1="219.6" y1="2642.8" x2="234.6" y2="2642.8" stroke="#000" stroke-width="5.6"/>
<line x1="219.6" y1="2404.3" x2="234.6" y2="2404.3" stroke="#000" stroke-width="5.6"/>
<line x1="219.6" y1="2165.8" x2="234.6" y2="2165.8" stroke="#000" stroke-width="5.6"/>
<line x1="219.6" y1="1927.3" x2="234.6" y2="1927.3" stroke="#000" stroke-width="5.6"/>
<line x1="234.6" y1="3120.2" x2="234.6" y2="3147.2" stroke="#000" stroke-width="5.6"/>
<line x1="354.3" y1="3120.2" x2="354.3" y2="3134.7" stroke="#000" stroke-width="5.6"/>
<line x1="474.0" y1="3120.2" x2="474.0" y2="3147.2" stroke="#000" stroke-width="5.6"/>
<line x1="593.8" y1="3120.2" x2="593.8" y2="3134.7" stroke="#000" stroke-width="5.6"/>
<line x1="713.5" y1="3120.2" x2="713.5" y2="3147.2" stroke="#000" stroke-width="5.6"/>
<line x1="833.2" y1="3120.2" x2="833.2" y2="3134.7" stroke="#000" stroke-width="5.6"/>
<line x1="952.9" y1="3120.2" x2="952.9" y2="3147.2" stroke="#000" stroke-width="5.6"/>
<line x1="1072.7" y1="3120.2" x2="1072.7" y2="3134.7" stroke="#000" stroke-width="5.6"/>
<line x1="1192.4" y1="3120.2" x2="1192.4" y2="3147.2" stroke="#000" stroke-width="5.6"/>
<line x1="1312.1" y1="3120.2" x2="1312.1" y2="3134.7" stroke="#000" stroke-width="5.6"/>
<line x1="1431.8" y1="3120.2" x2="1431.8" y2="3147.2" stroke="#000" stroke-width="5.6"/>
<line x1="1551.6" y1="3120.2" x2="1551.6" y2="3134.7" stroke="#000" stroke-width="5.6"/>
<line x1="1671.3" y1="3120.2" x2="1671.3" y2="3147.2" stroke="#000" stroke-width="5.6"/>
<line x1="1791.0" y1="3120.2" x2="1791.0" y2="3134.7" stroke="#000" stroke-width="5.6"/>
<line x1="1910.7" y1="3120.2" x2="1910.7" y2="3147.2" stroke="#000" stroke-width="5.6"/>
<text transform="translate(194.5,3014.1) scale(0.944,1)" text-anchor="end" style="font-family:'Liberation Sans',Arial,sans-serif;font-size:51.5px">0</text>
<text transform="translate(194.5,2775.6) scale(0.944,1)" text-anchor="end" style="font-family:'Liberation Sans',Arial,sans-serif;font-size:51.5px">2</text>
<text transform="translate(194.5,2537.1) scale(0.944,1)" text-anchor="end" style="font-family:'Liberation Sans',Arial,sans-serif;font-size:51.5px">4</text>
<text transform="translate(194.5,2298.5) scale(0.944,1)" text-anchor="end" style="font-family:'Liberation Sans',Arial,sans-serif;font-size:51.5px">6</text>
<text transform="translate(194.5,2060.0) scale(0.944,1)" text-anchor="end" style="font-family:'Liberation Sans',Arial,sans-serif;font-size:51.5px">8</text>
<text transform="translate(194.5,1821.5) scale(0.944,1)" text-anchor="end" style="font-family:'Liberation Sans',Arial,sans-serif;font-size:51.5px">10</text>
<text transform="translate(234.6,3197.5) scale(0.944,1)" text-anchor="middle" style="font-family:'Liberation Sans',Arial,sans-serif;font-size:51.5px">1050</text>
<text transform="translate(474.0,3197.5) scale(0.944,1)" text-anchor="middle" style="font-family:'Liberation Sans',Arial,sans-serif;font-size:51.5px">1000</text>
<text transform="translate(713.5,3197.5) scale(0.944,1)" text-anchor="middle" style="font-family:'Liberation Sans',Arial,sans-serif;font-size:51.5px">950</text>
<text transform="translate(952.9,3197.5) scale(0.944,1)" text-anchor="middle" style="font-family:'Liberation Sans',Arial,sans-serif;font-size:51.5px">900</text>
<text transform="translate(1192.4,3197.5) scale(0.944,1)" text-anchor="middle" style="font-family:'Liberation Sans',Arial,sans-serif;font-size:51.5px">850</text>
<text transform="translate(1431.8,3197.5) scale(0.944,1)" text-anchor="middle" style="font-family:'Liberation Sans',Arial,sans-serif;font-size:51.5px">800</text>
<text transform="translate(1671.3,3197.5) scale(0.944,1)" text-anchor="middle" style="font-family:'Liberation Sans',Arial,sans-serif;font-size:51.5px">750</text>
<text transform="translate(1910.7,3197.5) scale(0.944,1)" text-anchor="middle" style="font-family:'Liberation Sans',Arial,sans-serif;font-size:51.5px">700</text>
<text x="876.5" y="3303.8" style="font-family:'Liberation Sans',Arial,sans-serif;font-size:60px;letter-spacing:0.2px">wavenumber, cm<tspan dx="3.5" dy="-33.5" style="font-size:36px;letter-spacing:0px">-1</tspan></text>
<text transform="translate(74.3,2504) rotate(-90)" text-anchor="middle" style="font-family:'Liberation Sans',Arial,sans-serif;font-size:60px;letter-spacing:-0.2px">Absorbance, a.u.</text>
<text x="1030" y="3461.5" text-anchor="middle" style="font-family:'Liberation Serif','Times New Roman',serif;font-size:86px;letter-spacing:-1px">(<tspan font-weight="bold">b</tspan>)</text></svg>
</body></html>
